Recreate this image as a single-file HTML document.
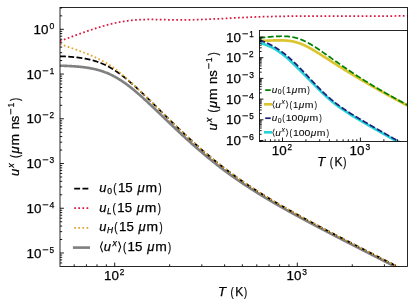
<!DOCTYPE html>
<html lang="en"><head><meta charset="utf-8"><title>plot</title><style>html,body{margin:0;padding:0;background:#fff}svg text{font-family:"Liberation Sans",sans-serif}</style></head><body>
<svg width="415" height="307" viewBox="0 0 415 307" style="display:block">
<rect x="0" y="0" width="415" height="307" fill="#fff"/>
<defs><clipPath id="cm"><rect x="60.0" y="7.5" width="347.5" height="259.0"/></clipPath><clipPath id="ci"><rect x="259.5" y="30.5" width="148.0" height="110.94999999999999"/></clipPath></defs>
<g clip-path="url(#cm)" fill="none">
<path d="M60.00,65.70 L60.58,65.72 L61.16,65.73 L61.75,65.75 L62.33,65.77 L62.91,65.79 L63.49,65.80 L64.07,65.82 L64.65,65.85 L65.24,65.87 L65.82,65.89 L66.40,65.91 L66.98,65.94 L67.56,65.96 L68.15,65.99 L68.73,66.02 L69.31,66.05 L69.89,66.08 L70.47,66.11 L71.05,66.14 L71.64,66.17 L72.22,66.21 L72.80,66.24 L73.38,66.28 L73.96,66.32 L74.55,66.36 L75.13,66.40 L75.71,66.44 L76.29,66.49 L76.87,66.54 L77.45,66.58 L78.04,66.63 L78.62,66.69 L79.20,66.74 L79.78,66.80 L80.36,66.85 L80.94,66.91 L81.53,66.98 L82.11,67.04 L82.69,67.11 L83.27,67.18 L83.85,67.25 L84.44,67.32 L85.02,67.40 L85.60,67.48 L86.18,67.56 L86.76,67.65 L87.34,67.74 L87.93,67.83 L88.51,67.92 L89.09,68.02 L89.67,68.12 L90.25,68.22 L90.84,68.33 L91.42,68.44 L92.00,68.56 L92.58,68.68 L93.16,68.80 L93.74,68.92 L94.33,69.05 L94.91,69.19 L95.49,69.33 L96.07,69.47 L96.65,69.61 L97.24,69.77 L97.82,69.92 L98.40,70.08 L98.98,70.25 L99.56,70.41 L100.14,70.59 L100.73,70.77 L101.31,70.95 L101.89,71.14 L102.47,71.33 L103.05,71.53 L103.64,71.74 L104.22,71.95 L104.80,72.16 L105.38,72.38 L105.96,72.61 L106.54,72.84 L107.13,73.08 L107.71,73.32 L108.29,73.57 L108.87,73.82 L109.45,74.08 L110.04,74.35 L110.62,74.62 L111.20,74.90 L111.78,75.18 L112.36,75.47 L112.94,75.77 L113.53,76.07 L114.11,76.37 L114.69,76.69 L115.27,77.00 L115.85,77.33 L116.43,77.66 L117.02,77.99 L117.60,78.34 L118.18,78.68 L118.76,79.04 L119.34,79.40 L119.93,79.76 L120.51,80.13 L121.09,80.51 L121.67,80.89 L122.25,81.27 L122.83,81.67 L123.42,82.06 L124.00,82.47 L124.58,82.87 L125.16,83.29 L125.74,83.70 L126.33,84.13 L126.91,84.55 L127.49,84.99 L128.07,85.42 L128.65,85.86 L129.23,86.31 L129.82,86.76 L130.40,87.22 L130.98,87.67 L131.56,88.14 L132.14,88.61 L132.73,89.08 L133.31,89.55 L133.89,90.03 L134.47,90.51 L135.05,91.00 L135.63,91.49 L136.22,91.98 L136.80,92.48 L137.38,92.97 L137.96,93.48 L138.54,93.98 L139.13,94.49 L139.71,95.00 L140.29,95.51 L140.87,96.03 L141.45,96.55 L142.03,97.07 L142.62,97.59 L143.20,98.12 L143.78,98.65 L144.36,99.18 L144.94,99.71 L145.53,100.24 L146.11,100.78 L146.69,101.31 L147.27,101.85 L147.85,102.39 L148.43,102.93 L149.02,103.48 L149.60,104.02 L150.18,104.57 L150.76,105.11 L151.34,105.66 L151.92,106.21 L152.51,106.76 L153.09,107.31 L153.67,107.86 L154.25,108.42 L154.83,108.97 L155.42,109.52 L156.00,110.08 L156.58,110.63 L157.16,111.19 L157.74,111.75 L158.32,112.30 L158.91,112.86 L159.49,113.42 L160.07,113.98 L160.65,114.53 L161.23,115.09 L161.82,115.65 L162.40,116.21 L162.98,116.77 L163.56,117.32 L164.14,117.88 L164.72,118.44 L165.31,119.00 L165.89,119.55 L166.47,120.11 L167.05,120.67 L167.63,121.23 L168.22,121.78 L168.80,122.34 L169.38,122.89 L169.96,123.45 L170.54,124.00 L171.12,124.56 L171.71,125.11 L172.29,125.66 L172.87,126.22 L173.45,126.77 L174.03,127.32 L174.62,127.87 L175.20,128.42 L175.78,128.97 L176.36,129.52 L176.94,130.06 L177.52,130.61 L178.11,131.16 L178.69,131.70 L179.27,132.24 L179.85,132.79 L180.43,133.33 L181.02,133.87 L181.60,134.41 L182.18,134.95 L182.76,135.49 L183.34,136.02 L183.92,136.56 L184.51,137.09 L185.09,137.63 L185.67,138.16 L186.25,138.69 L186.83,139.22 L187.41,139.75 L188.00,140.28 L188.58,140.80 L189.16,141.33 L189.74,141.85 L190.32,142.38 L190.91,142.90 L191.49,143.42 L192.07,143.94 L192.65,144.45 L193.23,144.97 L193.81,145.49 L194.40,146.00 L194.98,146.51 L195.56,147.02 L196.14,147.53 L196.72,148.04 L197.31,148.55 L197.89,149.05 L198.47,149.55 L199.05,150.06 L199.63,150.56 L200.21,151.06 L200.80,151.55 L201.38,152.05 L201.96,152.55 L202.54,153.04 L203.12,153.53 L203.71,154.02 L204.29,154.51 L204.87,155.00 L205.45,155.48 L206.03,155.97 L206.61,156.45 L207.20,156.93 L207.78,157.41 L208.36,157.89 L208.94,158.37 L209.52,158.84 L210.11,159.32 L210.69,159.79 L211.27,160.26 L211.85,160.73 L212.43,161.19 L213.01,161.66 L213.60,162.12 L214.18,162.59 L214.76,163.05 L215.34,163.51 L215.92,163.97 L216.51,164.42 L217.09,164.88 L217.67,165.33 L218.25,165.78 L218.83,166.23 L219.41,166.68 L220.00,167.13 L220.58,167.57 L221.16,168.02 L221.74,168.46 L222.32,168.90 L222.90,169.34 L223.49,169.78 L224.07,170.21 L224.65,170.65 L225.23,171.08 L225.81,171.51 L226.40,171.94 L226.98,172.37 L227.56,172.80 L228.14,173.22 L228.72,173.65 L229.30,174.07 L229.89,174.49 L230.47,174.91 L231.05,175.33 L231.63,175.75 L232.21,176.16 L232.80,176.58 L233.38,176.99 L233.96,177.40 L234.54,177.81 L235.12,178.22 L235.70,178.62 L236.29,179.03 L236.87,179.43 L237.45,179.84 L238.03,180.24 L238.61,180.64 L239.20,181.04 L239.78,181.44 L240.36,181.83 L240.94,182.23 L241.52,182.62 L242.10,183.01 L242.69,183.40 L243.27,183.79 L243.85,184.18 L244.43,184.57 L245.01,184.95 L245.60,185.34 L246.18,185.72 L246.76,186.10 L247.34,186.49 L247.92,186.87 L248.50,187.24 L249.09,187.62 L249.67,188.00 L250.25,188.37 L250.83,188.75 L251.41,189.12 L251.99,189.49 L252.58,189.86 L253.16,190.23 L253.74,190.60 L254.32,190.97 L254.90,191.34 L255.49,191.70 L256.07,192.07 L256.65,192.43 L257.23,192.79 L257.81,193.15 L258.39,193.51 L258.98,193.87 L259.56,194.23 L260.14,194.59 L260.72,194.95 L261.30,195.30 L261.89,195.66 L262.47,196.01 L263.05,196.36 L263.63,196.72 L264.21,197.07 L264.79,197.42 L265.38,197.77 L265.96,198.12 L266.54,198.46 L267.12,198.81 L267.70,199.16 L268.29,199.50 L268.87,199.85 L269.45,200.19 L270.03,200.53 L270.61,200.88 L271.19,201.22 L271.78,201.56 L272.36,201.90 L272.94,202.24 L273.52,202.58 L274.10,202.92 L274.69,203.25 L275.27,203.59 L275.85,203.93 L276.43,204.26 L277.01,204.60 L277.59,204.93 L278.18,205.26 L278.76,205.60 L279.34,205.93 L279.92,206.26 L280.50,206.59 L281.09,206.92 L281.67,207.25 L282.25,207.58 L282.83,207.91 L283.41,208.23 L283.99,208.56 L284.58,208.89 L285.16,209.22 L285.74,209.54 L286.32,209.87 L286.90,210.19 L287.48,210.52 L288.07,210.84 L288.65,211.16 L289.23,211.49 L289.81,211.81 L290.39,212.13 L290.98,212.45 L291.56,212.77 L292.14,213.09 L292.72,213.41 L293.30,213.73 L293.88,214.05 L294.47,214.37 L295.05,214.69 L295.63,215.01 L296.21,215.32 L296.79,215.64 L297.38,215.96 L297.96,216.27 L298.54,216.59 L299.12,216.91 L299.70,217.22 L300.28,217.54 L300.87,217.85 L301.45,218.16 L302.03,218.48 L302.61,218.79 L303.19,219.10 L303.78,219.42 L304.36,219.73 L304.94,220.04 L305.52,220.35 L306.10,220.67 L306.68,220.98 L307.27,221.29 L307.85,221.60 L308.43,221.91 L309.01,222.22 L309.59,222.53 L310.18,222.84 L310.76,223.15 L311.34,223.46 L311.92,223.77 L312.50,224.07 L313.08,224.38 L313.67,224.69 L314.25,225.00 L314.83,225.31 L315.41,225.61 L315.99,225.92 L316.58,226.23 L317.16,226.53 L317.74,226.84 L318.32,227.15 L318.90,227.45 L319.48,227.76 L320.07,228.06 L320.65,228.37 L321.23,228.68 L321.81,228.98 L322.39,229.29 L322.97,229.59 L323.56,229.89 L324.14,230.20 L324.72,230.50 L325.30,230.81 L325.88,231.11 L326.47,231.41 L327.05,231.72 L327.63,232.02 L328.21,232.32 L328.79,232.63 L329.37,232.93 L329.96,233.23 L330.54,233.53 L331.12,233.84 L331.70,234.14 L332.28,234.44 L332.87,234.74 L333.45,235.04 L334.03,235.35 L334.61,235.65 L335.19,235.95 L335.77,236.25 L336.36,236.55 L336.94,236.85 L337.52,237.15 L338.10,237.45 L338.68,237.75 L339.27,238.05 L339.85,238.36 L340.43,238.66 L341.01,238.96 L341.59,239.26 L342.17,239.56 L342.76,239.86 L343.34,240.16 L343.92,240.45 L344.50,240.75 L345.08,241.05 L345.67,241.35 L346.25,241.65 L346.83,241.95 L347.41,242.25 L347.99,242.55 L348.57,242.85 L349.16,243.15 L349.74,243.45 L350.32,243.74 L350.90,244.04 L351.48,244.34 L352.07,244.64 L352.65,244.94 L353.23,245.24 L353.81,245.53 L354.39,245.83 L354.97,246.13 L355.56,246.43 L356.14,246.73 L356.72,247.02 L357.30,247.32 L357.88,247.62 L358.46,247.92 L359.05,248.22 L359.63,248.51 L360.21,248.81 L360.79,249.11 L361.37,249.40 L361.96,249.70 L362.54,250.00 L363.12,250.30 L363.70,250.59 L364.28,250.89 L364.86,251.19 L365.45,251.48 L366.03,251.78 L366.61,252.08 L367.19,252.37 L367.77,252.67 L368.36,252.97 L368.94,253.26 L369.52,253.56 L370.10,253.86 L370.68,254.15 L371.26,254.45 L371.85,254.75 L372.43,255.04 L373.01,255.34 L373.59,255.64 L374.17,255.93 L374.76,256.23 L375.34,256.52 L375.92,256.82 L376.50,257.12 L377.08,257.41 L377.66,257.71 L378.25,258.01 L378.83,258.30 L379.41,258.60 L379.99,258.89 L380.57,259.19 L381.16,259.48 L381.74,259.78 L382.32,260.08 L382.90,260.37 L383.48,260.67 L384.06,260.96 L384.65,261.26 L385.23,261.55 L385.81,261.85 L386.39,262.15 L386.97,262.44 L387.56,262.74 L388.14,263.03 L388.72,263.33 L389.30,263.62 L389.88,263.92 L390.46,264.21 L391.05,264.51 L391.63,264.80 L392.21,265.10 L392.79,265.39 L393.37,265.69 L393.95,265.99 L394.54,266.28 L395.12,266.58 L395.70,266.87 L396.28,267.17 L396.86,267.46 L397.45,267.76 L398.03,268.05 L398.61,268.35 L399.19,268.64 L399.77,268.94 L400.35,269.23 L400.94,269.53 L401.52,269.82 L402.10,270.12 L402.68,270.41 L403.26,270.71 L403.85,271.00 L404.43,271.30 L405.01,271.59 L405.59,271.89 L406.17,272.18 L406.75,272.48 L407.34,272.77 L407.92,273.07 L408.50,273.36" stroke="#808080" stroke-width="2.65"/>
<path d="M60.00,56.26 L60.58,56.28 L61.16,56.31 L61.75,56.33 L62.33,56.36 L62.91,56.38 L63.49,56.41 L64.07,56.44 L64.65,56.46 L65.24,56.49 L65.82,56.53 L66.40,56.56 L66.98,56.59 L67.56,56.63 L68.15,56.66 L68.73,56.70 L69.31,56.74 L69.89,56.78 L70.47,56.83 L71.05,56.87 L71.64,56.92 L72.22,56.96 L72.80,57.01 L73.38,57.06 L73.96,57.12 L74.55,57.17 L75.13,57.23 L75.71,57.29 L76.29,57.35 L76.87,57.42 L77.45,57.48 L78.04,57.55 L78.62,57.62 L79.20,57.70 L79.78,57.77 L80.36,57.85 L80.94,57.93 L81.53,58.02 L82.11,58.11 L82.69,58.20 L83.27,58.29 L83.85,58.39 L84.44,58.49 L85.02,58.59 L85.60,58.70 L86.18,58.81 L86.76,58.93 L87.34,59.04 L87.93,59.17 L88.51,59.29 L89.09,59.42 L89.67,59.56 L90.25,59.70 L90.84,59.84 L91.42,59.99 L92.00,60.14 L92.58,60.30 L93.16,60.46 L93.74,60.62 L94.33,60.79 L94.91,60.97 L95.49,61.15 L96.07,61.34 L96.65,61.53 L97.24,61.73 L97.82,61.93 L98.40,62.13 L98.98,62.35 L99.56,62.57 L100.14,62.79 L100.73,63.02 L101.31,63.25 L101.89,63.49 L102.47,63.74 L103.05,63.99 L103.64,64.25 L104.22,64.52 L104.80,64.79 L105.38,65.06 L105.96,65.35 L106.54,65.64 L107.13,65.93 L107.71,66.23 L108.29,66.54 L108.87,66.85 L109.45,67.17 L110.04,67.49 L110.62,67.83 L111.20,68.16 L111.78,68.51 L112.36,68.86 L112.94,69.21 L113.53,69.57 L114.11,69.94 L114.69,70.31 L115.27,70.69 L115.85,71.07 L116.43,71.46 L117.02,71.86 L117.60,72.26 L118.18,72.66 L118.76,73.08 L119.34,73.49 L119.93,73.91 L120.51,74.34 L121.09,74.77 L121.67,75.21 L122.25,75.65 L122.83,76.10 L123.42,76.55 L124.00,77.01 L124.58,77.47 L125.16,77.93 L125.74,78.40 L126.33,78.87 L126.91,79.35 L127.49,79.83 L128.07,80.32 L128.65,80.81 L129.23,81.30 L129.82,81.80 L130.40,82.30 L130.98,82.80 L131.56,83.31 L132.14,83.82 L132.73,84.33 L133.31,84.85 L133.89,85.37 L134.47,85.89 L135.05,86.41 L135.63,86.94 L136.22,87.47 L136.80,88.00 L137.38,88.54 L137.96,89.07 L138.54,89.61 L139.13,90.15 L139.71,90.70 L140.29,91.24 L140.87,91.79 L141.45,92.34 L142.03,92.89 L142.62,93.44 L143.20,93.99 L143.78,94.55 L144.36,95.10 L144.94,95.66 L145.53,96.22 L146.11,96.78 L146.69,97.34 L147.27,97.90 L147.85,98.47 L148.43,99.03 L149.02,99.60 L149.60,100.16 L150.18,100.73 L150.76,101.30 L151.34,101.87 L151.92,102.43 L152.51,103.00 L153.09,103.57 L153.67,104.14 L154.25,104.71 L154.83,105.28 L155.42,105.86 L156.00,106.43 L156.58,107.00 L157.16,107.57 L157.74,108.14 L158.32,108.71 L158.91,109.29 L159.49,109.86 L160.07,110.43 L160.65,111.00 L161.23,111.58 L161.82,112.15 L162.40,112.72 L162.98,113.29 L163.56,113.86 L164.14,114.43 L164.72,115.00 L165.31,115.57 L165.89,116.14 L166.47,116.71 L167.05,117.28 L167.63,117.85 L168.22,118.42 L168.80,118.98 L169.38,119.55 L169.96,120.12 L170.54,120.68 L171.12,121.25 L171.71,121.81 L172.29,122.38 L172.87,122.94 L173.45,123.50 L174.03,124.06 L174.62,124.63 L175.20,125.19 L175.78,125.75 L176.36,126.30 L176.94,126.86 L177.52,127.42 L178.11,127.97 L178.69,128.53 L179.27,129.08 L179.85,129.64 L180.43,130.19 L181.02,130.74 L181.60,131.29 L182.18,131.84 L182.76,132.39 L183.34,132.93 L183.92,133.48 L184.51,134.03 L185.09,134.57 L185.67,135.11 L186.25,135.65 L186.83,136.19 L187.41,136.73 L188.00,137.27 L188.58,137.81 L189.16,138.34 L189.74,138.88 L190.32,139.41 L190.91,139.94 L191.49,140.47 L192.07,141.00 L192.65,141.53 L193.23,142.06 L193.81,142.58 L194.40,143.11 L194.98,143.63 L195.56,144.15 L196.14,144.67 L196.72,145.19 L197.31,145.71 L197.89,146.22 L198.47,146.74 L199.05,147.25 L199.63,147.76 L200.21,148.27 L200.80,148.78 L201.38,149.29 L201.96,149.80 L202.54,150.30 L203.12,150.80 L203.71,151.30 L204.29,151.80 L204.87,152.30 L205.45,152.80 L206.03,153.30 L206.61,153.79 L207.20,154.28 L207.78,154.77 L208.36,155.26 L208.94,155.75 L209.52,156.24 L210.11,156.72 L210.69,157.21 L211.27,157.69 L211.85,158.17 L212.43,158.65 L213.01,159.12 L213.60,159.60 L214.18,160.07 L214.76,160.55 L215.34,161.02 L215.92,161.49 L216.51,161.96 L217.09,162.42 L217.67,162.89 L218.25,163.35 L218.83,163.81 L219.41,164.27 L220.00,164.73 L220.58,165.19 L221.16,165.64 L221.74,166.10 L222.32,166.55 L222.90,167.00 L223.49,167.45 L224.07,167.90 L224.65,168.34 L225.23,168.79 L225.81,169.23 L226.40,169.67 L226.98,170.11 L227.56,170.55 L228.14,170.99 L228.72,171.42 L229.30,171.86 L229.89,172.29 L230.47,172.72 L231.05,173.15 L231.63,173.58 L232.21,174.00 L232.80,174.43 L233.38,174.85 L233.96,175.27 L234.54,175.69 L235.12,176.11 L235.70,176.53 L236.29,176.95 L236.87,177.36 L237.45,177.78 L238.03,178.19 L238.61,178.60 L239.20,179.01 L239.78,179.42 L240.36,179.82 L240.94,180.23 L241.52,180.63 L242.10,181.03 L242.69,181.43 L243.27,181.83 L243.85,182.23 L244.43,182.63 L245.01,183.02 L245.60,183.42 L246.18,183.81 L246.76,184.20 L247.34,184.59 L247.92,184.98 L248.50,185.37 L249.09,185.76 L249.67,186.14 L250.25,186.53 L250.83,186.91 L251.41,187.29 L251.99,187.67 L252.58,188.05 L253.16,188.43 L253.74,188.81 L254.32,189.19 L254.90,189.56 L255.49,189.93 L256.07,190.31 L256.65,190.68 L257.23,191.05 L257.81,191.42 L258.39,191.79 L258.98,192.16 L259.56,192.52 L260.14,192.89 L260.72,193.25 L261.30,193.62 L261.89,193.98 L262.47,194.34 L263.05,194.70 L263.63,195.06 L264.21,195.42 L264.79,195.77 L265.38,196.13 L265.96,196.49 L266.54,196.84 L267.12,197.20 L267.70,197.55 L268.29,197.90 L268.87,198.25 L269.45,198.60 L270.03,198.95 L270.61,199.30 L271.19,199.65 L271.78,199.99 L272.36,200.34 L272.94,200.69 L273.52,201.03 L274.10,201.38 L274.69,201.72 L275.27,202.06 L275.85,202.40 L276.43,202.74 L277.01,203.08 L277.59,203.42 L278.18,203.76 L278.76,204.10 L279.34,204.44 L279.92,204.77 L280.50,205.11 L281.09,205.44 L281.67,205.78 L282.25,206.11 L282.83,206.45 L283.41,206.78 L283.99,207.11 L284.58,207.44 L285.16,207.77 L285.74,208.10 L286.32,208.43 L286.90,208.76 L287.48,209.09 L288.07,209.42 L288.65,209.75 L289.23,210.07 L289.81,210.40 L290.39,210.72 L290.98,211.05 L291.56,211.37 L292.14,211.70 L292.72,212.02 L293.30,212.35 L293.88,212.67 L294.47,212.99 L295.05,213.31 L295.63,213.63 L296.21,213.96 L296.79,214.28 L297.38,214.60 L297.96,214.92 L298.54,215.23 L299.12,215.55 L299.70,215.87 L300.28,216.19 L300.87,216.51 L301.45,216.82 L302.03,217.14 L302.61,217.46 L303.19,217.77 L303.78,218.09 L304.36,218.40 L304.94,218.72 L305.52,219.03 L306.10,219.35 L306.68,219.66 L307.27,219.98 L307.85,220.29 L308.43,220.60 L309.01,220.91 L309.59,221.23 L310.18,221.54 L310.76,221.85 L311.34,222.16 L311.92,222.47 L312.50,222.78 L313.08,223.09 L313.67,223.40 L314.25,223.71 L314.83,224.02 L315.41,224.33 L315.99,224.64 L316.58,224.95 L317.16,225.26 L317.74,225.57 L318.32,225.87 L318.90,226.18 L319.48,226.49 L320.07,226.80 L320.65,227.10 L321.23,227.41 L321.81,227.72 L322.39,228.02 L322.97,228.33 L323.56,228.64 L324.14,228.94 L324.72,229.25 L325.30,229.55 L325.88,229.86 L326.47,230.16 L327.05,230.47 L327.63,230.77 L328.21,231.08 L328.79,231.38 L329.37,231.68 L329.96,231.99 L330.54,232.29 L331.12,232.59 L331.70,232.90 L332.28,233.20 L332.87,233.50 L333.45,233.81 L334.03,234.11 L334.61,234.41 L335.19,234.71 L335.77,235.02 L336.36,235.32 L336.94,235.62 L337.52,235.92 L338.10,236.22 L338.68,236.53 L339.27,236.83 L339.85,237.13 L340.43,237.43 L341.01,237.73 L341.59,238.03 L342.17,238.33 L342.76,238.63 L343.34,238.93 L343.92,239.23 L344.50,239.53 L345.08,239.83 L345.67,240.13 L346.25,240.43 L346.83,240.73 L347.41,241.03 L347.99,241.33 L348.57,241.63 L349.16,241.93 L349.74,242.23 L350.32,242.53 L350.90,242.83 L351.48,243.13 L352.07,243.43 L352.65,243.73 L353.23,244.02 L353.81,244.32 L354.39,244.62 L354.97,244.92 L355.56,245.22 L356.14,245.52 L356.72,245.82 L357.30,246.11 L357.88,246.41 L358.46,246.71 L359.05,247.01 L359.63,247.31 L360.21,247.60 L360.79,247.90 L361.37,248.20 L361.96,248.50 L362.54,248.79 L363.12,249.09 L363.70,249.39 L364.28,249.69 L364.86,249.98 L365.45,250.28 L366.03,250.58 L366.61,250.87 L367.19,251.17 L367.77,251.47 L368.36,251.76 L368.94,252.06 L369.52,252.36 L370.10,252.66 L370.68,252.95 L371.26,253.25 L371.85,253.55 L372.43,253.84 L373.01,254.14 L373.59,254.43 L374.17,254.73 L374.76,255.03 L375.34,255.32 L375.92,255.62 L376.50,255.92 L377.08,256.21 L377.66,256.51 L378.25,256.80 L378.83,257.10 L379.41,257.40 L379.99,257.69 L380.57,257.99 L381.16,258.28 L381.74,258.58 L382.32,258.88 L382.90,259.17 L383.48,259.47 L384.06,259.76 L384.65,260.06 L385.23,260.35 L385.81,260.65 L386.39,260.95 L386.97,261.24 L387.56,261.54 L388.14,261.83 L388.72,262.13 L389.30,262.42 L389.88,262.72 L390.46,263.01 L391.05,263.31 L391.63,263.60 L392.21,263.90 L392.79,264.19 L393.37,264.49 L393.95,264.78 L394.54,265.08 L395.12,265.38 L395.70,265.67 L396.28,265.97 L396.86,266.26 L397.45,266.56 L398.03,266.85 L398.61,267.15 L399.19,267.44 L399.77,267.74 L400.35,268.03 L400.94,268.33 L401.52,268.62 L402.10,268.91 L402.68,269.21 L403.26,269.50 L403.85,269.80 L404.43,270.09 L405.01,270.39 L405.59,270.68 L406.17,270.98 L406.75,271.27 L407.34,271.57 L407.92,271.86 L408.50,272.16" stroke="#000" stroke-width="1.75" stroke-dasharray="5.9,2.35"/>
<path d="M60.00,41.09 L60.70,40.83 L61.40,40.57 L62.10,40.31 L62.79,40.05 L63.49,39.79 L64.19,39.53 L64.89,39.26 L65.59,39.00 L66.29,38.74 L66.98,38.48 L67.68,38.22 L68.38,37.96 L69.08,37.70 L69.78,37.44 L70.48,37.18 L71.17,36.92 L71.87,36.66 L72.57,36.40 L73.27,36.14 L73.97,35.89 L74.67,35.63 L75.36,35.37 L76.06,35.11 L76.76,34.86 L77.46,34.60 L78.16,34.35 L78.86,34.10 L79.56,33.84 L80.25,33.59 L80.95,33.34 L81.65,33.09 L82.35,32.84 L83.05,32.59 L83.75,32.35 L84.44,32.10 L85.14,31.85 L85.84,31.61 L86.54,31.37 L87.24,31.13 L87.94,30.89 L88.63,30.65 L89.33,30.41 L90.03,30.18 L90.73,29.94 L91.43,29.71 L92.13,29.48 L92.82,29.25 L93.52,29.02 L94.22,28.80 L94.92,28.57 L95.62,28.35 L96.32,28.13 L97.02,27.91 L97.71,27.69 L98.41,27.48 L99.11,27.26 L99.81,27.05 L100.51,26.84 L101.21,26.64 L101.90,26.43 L102.60,26.23 L103.30,26.03 L104.00,25.83 L104.70,25.64 L105.40,25.44 L106.09,25.25 L106.79,25.06 L107.49,24.88 L108.19,24.69 L108.89,24.51 L109.59,24.34 L110.28,24.16 L110.98,23.99 L111.68,23.82 L112.38,23.65 L113.08,23.49 L113.78,23.33 L114.47,23.17 L115.17,23.01 L115.87,22.86 L116.57,22.71 L117.27,22.57 L117.97,22.42 L118.67,22.28 L119.36,22.15 L120.06,22.01 L120.76,21.89 L121.46,21.76 L122.16,21.64 L122.86,21.52 L123.55,21.40 L124.25,21.29 L124.95,21.18 L125.65,21.08 L126.35,20.97 L127.05,20.88 L127.74,20.78 L128.44,20.69 L129.14,20.61 L129.84,20.53 L130.54,20.45 L131.24,20.37 L131.93,20.30 L132.63,20.23 L133.33,20.17 L134.03,20.11 L134.73,20.05 L135.43,19.99 L136.13,19.94 L136.82,19.89 L137.52,19.85 L138.22,19.81 L138.92,19.77 L139.62,19.73 L140.32,19.69 L141.01,19.66 L141.71,19.63 L142.41,19.61 L143.11,19.58 L143.81,19.56 L144.51,19.54 L145.20,19.53 L145.90,19.51 L146.60,19.50 L147.30,19.49 L148.00,19.48 L148.70,19.48 L149.39,19.47 L150.09,19.47 L150.79,19.47 L151.49,19.47 L152.19,19.48 L152.89,19.48 L153.59,19.49 L154.28,19.49 L154.98,19.50 L155.68,19.51 L156.38,19.52 L157.08,19.53 L157.78,19.55 L158.47,19.56 L159.17,19.57 L159.87,19.59 L160.57,19.60 L161.27,19.62 L161.97,19.63 L162.66,19.65 L163.36,19.66 L164.06,19.68 L164.76,19.70 L165.46,19.71 L166.16,19.73 L166.85,19.74 L167.55,19.76 L168.25,19.77 L168.95,19.78 L169.65,19.80 L170.35,19.81 L171.05,19.82 L171.74,19.83 L172.44,19.84 L173.14,19.85 L173.84,19.86 L174.54,19.87 L175.24,19.87 L175.93,19.88 L176.63,19.88 L177.33,19.89 L178.03,19.89 L178.73,19.89 L179.43,19.90 L180.12,19.90 L180.82,19.90 L181.52,19.90 L182.22,19.90 L182.92,19.89 L183.62,19.89 L184.31,19.89 L185.01,19.88 L185.71,19.88 L186.41,19.87 L187.11,19.86 L187.81,19.85 L188.51,19.84 L189.20,19.83 L189.90,19.82 L190.60,19.81 L191.30,19.80 L192.00,19.78 L192.70,19.77 L193.39,19.75 L194.09,19.74 L194.79,19.72 L195.49,19.70 L196.19,19.68 L196.89,19.66 L197.58,19.64 L198.28,19.62 L198.98,19.60 L199.68,19.58 L200.38,19.55 L201.08,19.53 L201.77,19.50 L202.47,19.48 L203.17,19.45 L203.87,19.43 L204.57,19.40 L205.27,19.37 L205.96,19.34 L206.66,19.32 L207.36,19.29 L208.06,19.26 L208.76,19.23 L209.46,19.20 L210.16,19.16 L210.85,19.13 L211.55,19.10 L212.25,19.07 L212.95,19.04 L213.65,19.00 L214.35,18.97 L215.04,18.94 L215.74,18.90 L216.44,18.87 L217.14,18.83 L217.84,18.80 L218.54,18.76 L219.23,18.73 L219.93,18.69 L220.63,18.66 L221.33,18.62 L222.03,18.58 L222.73,18.55 L223.42,18.51 L224.12,18.48 L224.82,18.44 L225.52,18.40 L226.22,18.37 L226.92,18.33 L227.62,18.29 L228.31,18.26 L229.01,18.22 L229.71,18.18 L230.41,18.15 L231.11,18.11 L231.81,18.07 L232.50,18.04 L233.20,18.00 L233.90,17.96 L234.60,17.93 L235.30,17.89 L236.00,17.86 L236.69,17.82 L237.39,17.78 L238.09,17.75 L238.79,17.71 L239.49,17.68 L240.19,17.64 L240.88,17.61 L241.58,17.58 L242.28,17.54 L242.98,17.51 L243.68,17.48 L244.38,17.45 L245.08,17.41 L245.77,17.38 L246.47,17.35 L247.17,17.32 L247.87,17.29 L248.57,17.26 L249.27,17.23 L249.96,17.20 L250.66,17.17 L251.36,17.14 L252.06,17.12 L252.76,17.09 L253.46,17.06 L254.15,17.04 L254.85,17.01 L255.55,16.99 L256.25,16.96 L256.95,16.94 L257.65,16.91 L258.34,16.89 L259.04,16.87 L259.74,16.84 L260.44,16.82 L261.14,16.80 L261.84,16.78 L262.54,16.76 L263.23,16.74 L263.93,16.72 L264.63,16.70 L265.33,16.68 L266.03,16.66 L266.73,16.64 L267.42,16.62 L268.12,16.60 L268.82,16.58 L269.52,16.57 L270.22,16.55 L270.92,16.53 L271.61,16.52 L272.31,16.50 L273.01,16.49 L273.71,16.47 L274.41,16.46 L275.11,16.44 L275.80,16.43 L276.50,16.41 L277.20,16.40 L277.90,16.39 L278.60,16.37 L279.30,16.36 L279.99,16.35 L280.69,16.34 L281.39,16.33 L282.09,16.31 L282.79,16.30 L283.49,16.29 L284.19,16.28 L284.88,16.27 L285.58,16.26 L286.28,16.25 L286.98,16.24 L287.68,16.24 L288.38,16.23 L289.07,16.22 L289.77,16.21 L290.47,16.20 L291.17,16.19 L291.87,16.19 L292.57,16.18 L293.26,16.17 L293.96,16.17 L294.66,16.16 L295.36,16.15 L296.06,16.15 L296.76,16.14 L297.45,16.14 L298.15,16.13 L298.85,16.13 L299.55,16.12 L300.25,16.12 L300.95,16.11 L301.65,16.11 L302.34,16.11 L303.04,16.10 L303.74,16.10 L304.44,16.10 L305.14,16.09 L305.84,16.09 L306.53,16.09 L307.23,16.08 L307.93,16.08 L308.63,16.08 L309.33,16.08 L310.03,16.07 L310.72,16.07 L311.42,16.07 L312.12,16.07 L312.82,16.07 L313.52,16.07 L314.22,16.07 L314.91,16.07 L315.61,16.07 L316.31,16.06 L317.01,16.06 L317.71,16.06 L318.41,16.06 L319.11,16.06 L319.80,16.06 L320.50,16.06 L321.20,16.06 L321.90,16.06 L322.60,16.06 L323.30,16.07 L323.99,16.07 L324.69,16.07 L325.39,16.07 L326.09,16.07 L326.79,16.07 L327.49,16.07 L328.18,16.07 L328.88,16.07 L329.58,16.07 L330.28,16.08 L330.98,16.08 L331.68,16.08 L332.37,16.08 L333.07,16.08 L333.77,16.08 L334.47,16.08 L335.17,16.09 L335.87,16.09 L336.57,16.09 L337.26,16.09 L337.96,16.09 L338.66,16.10 L339.36,16.10 L340.06,16.10 L340.76,16.10 L341.45,16.10 L342.15,16.11 L342.85,16.11 L343.55,16.11 L344.25,16.11 L344.95,16.11 L345.64,16.11 L346.34,16.12 L347.04,16.12 L347.74,16.12 L348.44,16.12 L349.14,16.12 L349.83,16.13 L350.53,16.13 L351.23,16.13 L351.93,16.13 L352.63,16.13 L353.33,16.13 L354.03,16.14 L354.72,16.14 L355.42,16.14 L356.12,16.14 L356.82,16.14 L357.52,16.14 L358.22,16.14 L358.91,16.14 L359.61,16.14 L360.31,16.15 L361.01,16.15 L361.71,16.15 L362.41,16.15 L363.10,16.15 L363.80,16.15 L364.50,16.15 L365.20,16.15 L365.90,16.15 L366.60,16.15 L367.29,16.15 L367.99,16.15 L368.69,16.15 L369.39,16.15 L370.09,16.15 L370.79,16.14 L371.48,16.14 L372.18,16.14 L372.88,16.14 L373.58,16.14 L374.28,16.14 L374.98,16.14 L375.68,16.13 L376.37,16.13 L377.07,16.13 L377.77,16.13 L378.47,16.12 L379.17,16.12 L379.87,16.12 L380.56,16.12 L381.26,16.11 L381.96,16.11 L382.66,16.10 L383.36,16.10 L384.06,16.10 L384.75,16.09 L385.45,16.09 L386.15,16.08 L386.85,16.08 L387.55,16.07 L388.25,16.07 L388.94,16.06 L389.64,16.06 L390.34,16.05 L391.04,16.04 L391.74,16.04 L392.44,16.03 L393.14,16.02 L393.83,16.01 L394.53,16.01 L395.23,16.00 L395.93,15.99 L396.63,15.98 L397.33,15.97 L398.02,15.96 L398.72,15.96 L399.42,15.95 L400.12,15.94 L400.82,15.93 L401.52,15.91 L402.21,15.90 L402.91,15.89 L403.61,15.88 L404.31,15.87 L405.01,15.86 L405.71,15.85 L406.40,15.83 L407.10,15.82 L407.80,15.81 L408.50,15.79" stroke="#dc143c" stroke-width="1.75" stroke-dasharray="1.7,2.42"/>
<path d="M60.00,43.96 L60.58,44.18 L61.16,44.40 L61.75,44.61 L62.33,44.83 L62.91,45.04 L63.49,45.26 L64.07,45.47 L64.65,45.69 L65.24,45.90 L65.82,46.11 L66.40,46.32 L66.98,46.53 L67.56,46.73 L68.15,46.94 L68.73,47.14 L69.31,47.33 L69.89,47.53 L70.47,47.72 L71.05,47.91 L71.64,48.10 L72.22,48.29 L72.80,48.48 L73.38,48.67 L73.96,48.86 L74.55,49.06 L75.13,49.26 L75.71,49.46 L76.29,49.68 L76.87,49.90 L77.45,50.12 L78.04,50.35 L78.62,50.59 L79.20,50.82 L79.78,51.05 L80.36,51.27 L80.94,51.48 L81.53,51.69 L82.11,51.91 L82.69,52.12 L83.27,52.33 L83.85,52.54 L84.44,52.75 L85.02,52.97 L85.60,53.19 L86.18,53.41 L86.76,53.63 L87.34,53.86 L87.93,54.09 L88.51,54.33 L89.09,54.57 L89.67,54.82 L90.25,55.07 L90.84,55.32 L91.42,55.58 L92.00,55.83 L92.58,56.10 L93.16,56.36 L93.74,56.63 L94.33,56.90 L94.91,57.16 L95.49,57.44 L96.07,57.71 L96.65,57.98 L97.24,58.26 L97.82,58.55 L98.40,58.83 L98.98,59.13 L99.56,59.42 L100.14,59.72 L100.73,60.02 L101.31,60.32 L101.89,60.63 L102.47,60.94 L103.05,61.25 L103.64,61.57 L104.22,61.88 L104.80,62.20 L105.38,62.52 L105.96,62.85 L106.54,63.18 L107.13,63.52 L107.71,63.86 L108.29,64.21 L108.87,64.56 L109.45,64.93 L110.04,65.30 L110.62,65.68 L111.20,66.07 L111.78,66.46 L112.36,66.87 L112.94,67.28 L113.53,67.69 L114.11,68.12 L114.69,68.54 L115.27,68.98 L115.85,69.41 L116.43,69.86 L117.02,70.30 L117.60,70.75 L118.18,71.21 L118.76,71.67 L119.34,72.13 L119.93,72.61 L120.51,73.09 L121.09,73.58 L121.67,74.08 L122.25,74.58 L122.83,75.09 L123.42,75.60 L124.00,76.11 L124.58,76.63 L125.16,77.15 L125.74,77.67 L126.33,78.19 L126.91,78.72 L127.49,79.26 L128.07,79.79 L128.65,80.32 L129.23,80.86 L129.82,81.39 L130.40,81.92 L130.98,82.45 L131.56,82.99 L132.14,83.52 L132.73,84.06 L133.31,84.60 L133.89,85.14 L134.47,85.69 L135.05,86.23 L135.63,86.78 L136.22,87.33 L136.80,87.87 L137.38,88.42 L137.96,88.97 L138.54,89.52 L139.13,90.08 L139.71,90.63 L140.29,91.19 L140.87,91.74 L141.45,92.30 L142.03,92.86 L142.62,93.42 L143.20,93.98 L143.78,94.54 L144.36,95.10 L144.94,95.66 L145.53,96.22 L146.11,96.78 L146.69,97.34 L147.27,97.90 L147.85,98.47 L148.43,99.03 L149.02,99.60 L149.60,100.16 L150.18,100.73 L150.76,101.30 L151.34,101.87 L151.92,102.43 L152.51,103.00 L153.09,103.57 L153.67,104.14 L154.25,104.71 L154.83,105.28 L155.42,105.86 L156.00,106.43 L156.58,107.00 L157.16,107.57 L157.74,108.14 L158.32,108.71 L158.91,109.29 L159.49,109.86 L160.07,110.43 L160.65,111.00 L161.23,111.58 L161.82,112.15 L162.40,112.72 L162.98,113.29 L163.56,113.86 L164.14,114.43 L164.72,115.00 L165.31,115.57 L165.89,116.14 L166.47,116.71 L167.05,117.28 L167.63,117.85 L168.22,118.42 L168.80,118.98 L169.38,119.55 L169.96,120.12 L170.54,120.68 L171.12,121.25 L171.71,121.81 L172.29,122.38 L172.87,122.94 L173.45,123.50 L174.03,124.06 L174.62,124.63 L175.20,125.19 L175.78,125.75 L176.36,126.30 L176.94,126.86 L177.52,127.42 L178.11,127.97 L178.69,128.53 L179.27,129.08 L179.85,129.64 L180.43,130.19 L181.02,130.74 L181.60,131.29 L182.18,131.84 L182.76,132.39 L183.34,132.93 L183.92,133.48 L184.51,134.03 L185.09,134.57 L185.67,135.11 L186.25,135.65 L186.83,136.19 L187.41,136.73 L188.00,137.27 L188.58,137.81 L189.16,138.34 L189.74,138.88 L190.32,139.41 L190.91,139.94 L191.49,140.47 L192.07,141.00 L192.65,141.53 L193.23,142.06 L193.81,142.58 L194.40,143.11 L194.98,143.63 L195.56,144.15 L196.14,144.67 L196.72,145.19 L197.31,145.71 L197.89,146.22 L198.47,146.74 L199.05,147.25 L199.63,147.76 L200.21,148.27 L200.80,148.78 L201.38,149.29 L201.96,149.80 L202.54,150.30 L203.12,150.80 L203.71,151.30 L204.29,151.80 L204.87,152.30 L205.45,152.80 L206.03,153.30 L206.61,153.79 L207.20,154.28 L207.78,154.77 L208.36,155.26 L208.94,155.75 L209.52,156.24 L210.11,156.72 L210.69,157.21 L211.27,157.69 L211.85,158.17 L212.43,158.65 L213.01,159.12 L213.60,159.60 L214.18,160.07 L214.76,160.55 L215.34,161.02 L215.92,161.49 L216.51,161.96 L217.09,162.42 L217.67,162.89 L218.25,163.35 L218.83,163.81 L219.41,164.27 L220.00,164.73 L220.58,165.19 L221.16,165.64 L221.74,166.10 L222.32,166.55 L222.90,167.00 L223.49,167.45 L224.07,167.90 L224.65,168.34 L225.23,168.79 L225.81,169.23 L226.40,169.67 L226.98,170.11 L227.56,170.55 L228.14,170.99 L228.72,171.42 L229.30,171.86 L229.89,172.29 L230.47,172.72 L231.05,173.15 L231.63,173.58 L232.21,174.00 L232.80,174.43 L233.38,174.85 L233.96,175.27 L234.54,175.69 L235.12,176.11 L235.70,176.53 L236.29,176.95 L236.87,177.36 L237.45,177.78 L238.03,178.19 L238.61,178.60 L239.20,179.01 L239.78,179.42 L240.36,179.82 L240.94,180.23 L241.52,180.63 L242.10,181.03 L242.69,181.43 L243.27,181.83 L243.85,182.23 L244.43,182.63 L245.01,183.02 L245.60,183.42 L246.18,183.81 L246.76,184.20 L247.34,184.59 L247.92,184.98 L248.50,185.37 L249.09,185.76 L249.67,186.14 L250.25,186.53 L250.83,186.91 L251.41,187.29 L251.99,187.67 L252.58,188.05 L253.16,188.43 L253.74,188.81 L254.32,189.19 L254.90,189.56 L255.49,189.93 L256.07,190.31 L256.65,190.68 L257.23,191.05 L257.81,191.42 L258.39,191.79 L258.98,192.16 L259.56,192.52 L260.14,192.89 L260.72,193.25 L261.30,193.62 L261.89,193.98 L262.47,194.34 L263.05,194.70 L263.63,195.06 L264.21,195.42 L264.79,195.77 L265.38,196.13 L265.96,196.49 L266.54,196.84 L267.12,197.20 L267.70,197.55 L268.29,197.90 L268.87,198.25 L269.45,198.60 L270.03,198.95 L270.61,199.30 L271.19,199.65 L271.78,199.99 L272.36,200.34 L272.94,200.69 L273.52,201.03 L274.10,201.38 L274.69,201.72 L275.27,202.06 L275.85,202.40 L276.43,202.74 L277.01,203.08 L277.59,203.42 L278.18,203.76 L278.76,204.10 L279.34,204.44 L279.92,204.77 L280.50,205.11 L281.09,205.44 L281.67,205.78 L282.25,206.11 L282.83,206.45 L283.41,206.78 L283.99,207.11 L284.58,207.44 L285.16,207.77 L285.74,208.10 L286.32,208.43 L286.90,208.76 L287.48,209.09 L288.07,209.42 L288.65,209.75 L289.23,210.07 L289.81,210.40 L290.39,210.72 L290.98,211.05 L291.56,211.37 L292.14,211.70 L292.72,212.02 L293.30,212.35 L293.88,212.67 L294.47,212.99 L295.05,213.31 L295.63,213.63 L296.21,213.96 L296.79,214.28 L297.38,214.60 L297.96,214.92 L298.54,215.23 L299.12,215.55 L299.70,215.87 L300.28,216.19 L300.87,216.51 L301.45,216.82 L302.03,217.14 L302.61,217.46 L303.19,217.77 L303.78,218.09 L304.36,218.40 L304.94,218.72 L305.52,219.03 L306.10,219.35 L306.68,219.66 L307.27,219.98 L307.85,220.29 L308.43,220.60 L309.01,220.91 L309.59,221.23 L310.18,221.54 L310.76,221.85 L311.34,222.16 L311.92,222.47 L312.50,222.78 L313.08,223.09 L313.67,223.40 L314.25,223.71 L314.83,224.02 L315.41,224.33 L315.99,224.64 L316.58,224.95 L317.16,225.26 L317.74,225.57 L318.32,225.87 L318.90,226.18 L319.48,226.49 L320.07,226.80 L320.65,227.10 L321.23,227.41 L321.81,227.72 L322.39,228.02 L322.97,228.33 L323.56,228.64 L324.14,228.94 L324.72,229.25 L325.30,229.55 L325.88,229.86 L326.47,230.16 L327.05,230.47 L327.63,230.77 L328.21,231.08 L328.79,231.38 L329.37,231.68 L329.96,231.99 L330.54,232.29 L331.12,232.59 L331.70,232.90 L332.28,233.20 L332.87,233.50 L333.45,233.81 L334.03,234.11 L334.61,234.41 L335.19,234.71 L335.77,235.02 L336.36,235.32 L336.94,235.62 L337.52,235.92 L338.10,236.22 L338.68,236.53 L339.27,236.83 L339.85,237.13 L340.43,237.43 L341.01,237.73 L341.59,238.03 L342.17,238.33 L342.76,238.63 L343.34,238.93 L343.92,239.23 L344.50,239.53 L345.08,239.83 L345.67,240.13 L346.25,240.43 L346.83,240.73 L347.41,241.03 L347.99,241.33 L348.57,241.63 L349.16,241.93 L349.74,242.23 L350.32,242.53 L350.90,242.83 L351.48,243.13 L352.07,243.43 L352.65,243.73 L353.23,244.02 L353.81,244.32 L354.39,244.62 L354.97,244.92 L355.56,245.22 L356.14,245.52 L356.72,245.82 L357.30,246.11 L357.88,246.41 L358.46,246.71 L359.05,247.01 L359.63,247.31 L360.21,247.60 L360.79,247.90 L361.37,248.20 L361.96,248.50 L362.54,248.79 L363.12,249.09 L363.70,249.39 L364.28,249.69 L364.86,249.98 L365.45,250.28 L366.03,250.58 L366.61,250.87 L367.19,251.17 L367.77,251.47 L368.36,251.76 L368.94,252.06 L369.52,252.36 L370.10,252.66 L370.68,252.95 L371.26,253.25 L371.85,253.55 L372.43,253.84 L373.01,254.14 L373.59,254.43 L374.17,254.73 L374.76,255.03 L375.34,255.32 L375.92,255.62 L376.50,255.92 L377.08,256.21 L377.66,256.51 L378.25,256.80 L378.83,257.10 L379.41,257.40 L379.99,257.69 L380.57,257.99 L381.16,258.28 L381.74,258.58 L382.32,258.88 L382.90,259.17 L383.48,259.47 L384.06,259.76 L384.65,260.06 L385.23,260.35 L385.81,260.65 L386.39,260.95 L386.97,261.24 L387.56,261.54 L388.14,261.83 L388.72,262.13 L389.30,262.42 L389.88,262.72 L390.46,263.01 L391.05,263.31 L391.63,263.60 L392.21,263.90 L392.79,264.19 L393.37,264.49 L393.95,264.78 L394.54,265.08 L395.12,265.38 L395.70,265.67 L396.28,265.97 L396.86,266.26 L397.45,266.56 L398.03,266.85 L398.61,267.15 L399.19,267.44 L399.77,267.74 L400.35,268.03 L400.94,268.33 L401.52,268.62 L402.10,268.91 L402.68,269.21 L403.26,269.50 L403.85,269.80 L404.43,270.09 L405.01,270.39 L405.59,270.68 L406.17,270.98 L406.75,271.27 L407.34,271.57 L407.92,271.86 L408.50,272.16" stroke="#e0a42c" stroke-width="1.75" stroke-dasharray="1.7,2.42"/>
</g>
<path d="M60.0,262.93h2.2 M60.0,259.93h2.2 M60.0,257.34h2.2 M60.0,255.05h2.2 M60.0,253.00h3.9 M60.0,239.53h2.2 M60.0,231.65h2.2 M60.0,226.06h2.2 M60.0,221.73h2.2 M60.0,218.19h2.2 M60.0,215.19h2.2 M60.0,212.60h2.2 M60.0,210.31h2.2 M60.0,208.26h3.9 M60.0,194.79h2.2 M60.0,186.91h2.2 M60.0,181.32h2.2 M60.0,176.99h2.2 M60.0,173.45h2.2 M60.0,170.45h2.2 M60.0,167.86h2.2 M60.0,165.57h2.2 M60.0,163.52h3.9 M60.0,150.05h2.2 M60.0,142.17h2.2 M60.0,136.58h2.2 M60.0,132.25h2.2 M60.0,128.71h2.2 M60.0,125.71h2.2 M60.0,123.12h2.2 M60.0,120.83h2.2 M60.0,118.78h3.9 M60.0,105.31h2.2 M60.0,97.43h2.2 M60.0,91.84h2.2 M60.0,87.51h2.2 M60.0,83.97h2.2 M60.0,80.97h2.2 M60.0,78.38h2.2 M60.0,76.09h2.2 M60.0,74.04h3.9 M60.0,60.57h2.2 M60.0,52.69h2.2 M60.0,47.10h2.2 M60.0,42.77h2.2 M60.0,39.23h2.2 M60.0,36.23h2.2 M60.0,33.64h2.2 M60.0,31.35h2.2 M60.0,29.30h3.9 M60.0,15.83h2.2 M60.0,7.95h2.2 M74.19,266.5v-2.2 M86.41,266.5v-2.2 M97.00,266.5v-2.2 M106.34,266.5v-2.2 M114.70,266.5v-3.9 M169.67,266.5v-2.2 M201.82,266.5v-2.2 M224.64,266.5v-2.2 M242.33,266.5v-2.2 M256.79,266.5v-2.2 M269.01,266.5v-2.2 M279.60,266.5v-2.2 M288.94,266.5v-2.2 M297.30,266.5v-3.9 M352.27,266.5v-2.2 M384.42,266.5v-2.2" stroke="#000" stroke-width="0.9" fill="none"/>
<rect x="60.0" y="7.5" width="347.5" height="259.0" fill="none" stroke="#000" stroke-width="0.85"/>
<rect x="259.5" y="30.5" width="148.0" height="110.94999999999999" fill="#fff"/>
<g clip-path="url(#ci)" fill="none">
<path d="M259.50,41.08 L259.87,41.07 L260.25,41.05 L260.62,41.03 L260.99,41.01 L261.37,40.99 L261.74,40.97 L262.11,40.95 L262.49,40.93 L262.86,40.91 L263.23,40.89 L263.61,40.87 L263.98,40.85 L264.35,40.84 L264.73,40.82 L265.10,40.80 L265.47,40.78 L265.85,40.76 L266.22,40.74 L266.60,40.73 L266.97,40.71 L267.34,40.69 L267.72,40.67 L268.09,40.66 L268.46,40.64 L268.84,40.62 L269.21,40.60 L269.58,40.59 L269.96,40.57 L270.33,40.56 L270.70,40.54 L271.08,40.53 L271.45,40.51 L271.82,40.50 L272.20,40.48 L272.57,40.47 L272.94,40.46 L273.32,40.44 L273.69,40.43 L274.06,40.42 L274.44,40.41 L274.81,40.40 L275.18,40.39 L275.56,40.38 L275.93,40.37 L276.30,40.36 L276.68,40.36 L277.05,40.35 L277.42,40.35 L277.80,40.34 L278.17,40.34 L278.55,40.33 L278.92,40.33 L279.29,40.33 L279.67,40.33 L280.04,40.33 L280.41,40.34 L280.79,40.34 L281.16,40.34 L281.53,40.35 L281.91,40.36 L282.28,40.37 L282.65,40.38 L283.03,40.39 L283.40,40.40 L283.77,40.42 L284.15,40.43 L284.52,40.45 L284.89,40.47 L285.27,40.49 L285.64,40.52 L286.01,40.55 L286.39,40.57 L286.76,40.60 L287.13,40.64 L287.51,40.67 L287.88,40.71 L288.25,40.75 L288.63,40.79 L289.00,40.83 L289.37,40.88 L289.75,40.93 L290.12,40.98 L290.49,41.04 L290.87,41.09 L291.24,41.15 L291.62,41.22 L291.99,41.28 L292.36,41.35 L292.74,41.43 L293.11,41.50 L293.48,41.58 L293.86,41.66 L294.23,41.75 L294.60,41.84 L294.98,41.93 L295.35,42.02 L295.72,42.12 L296.10,42.22 L296.47,42.33 L296.84,42.43 L297.22,42.55 L297.59,42.66 L297.96,42.78 L298.34,42.90 L298.71,43.03 L299.08,43.15 L299.46,43.29 L299.83,43.42 L300.20,43.56 L300.58,43.70 L300.95,43.84 L301.32,43.99 L301.70,44.14 L302.07,44.30 L302.44,44.45 L302.82,44.61 L303.19,44.78 L303.57,44.94 L303.94,45.11 L304.31,45.28 L304.69,45.46 L305.06,45.63 L305.43,45.81 L305.81,45.99 L306.18,46.18 L306.55,46.37 L306.93,46.56 L307.30,46.75 L307.67,46.94 L308.05,47.14 L308.42,47.33 L308.79,47.53 L309.17,47.74 L309.54,47.94 L309.91,48.15 L310.29,48.35 L310.66,48.56 L311.03,48.77 L311.41,48.99 L311.78,49.20 L312.15,49.41 L312.53,49.63 L312.90,49.85 L313.27,50.07 L313.65,50.29 L314.02,50.51 L314.39,50.73 L314.77,50.96 L315.14,51.18 L315.52,51.41 L315.89,51.64 L316.26,51.86 L316.64,52.09 L317.01,52.32 L317.38,52.55 L317.76,52.78 L318.13,53.01 L318.50,53.25 L318.88,53.48 L319.25,53.71 L319.62,53.95 L320.00,54.18 L320.37,54.41 L320.74,54.65 L321.12,54.89 L321.49,55.12 L321.86,55.36 L322.24,55.59 L322.61,55.83 L322.98,56.07 L323.36,56.31 L323.73,56.54 L324.10,56.78 L324.48,57.02 L324.85,57.26 L325.22,57.50 L325.60,57.73 L325.97,57.97 L326.34,58.21 L326.72,58.45 L327.09,58.69 L327.46,58.93 L327.84,59.17 L328.21,59.40 L328.59,59.64 L328.96,59.88 L329.33,60.12 L329.71,60.36 L330.08,60.60 L330.45,60.84 L330.83,61.08 L331.20,61.31 L331.57,61.55 L331.95,61.79 L332.32,62.03 L332.69,62.27 L333.07,62.50 L333.44,62.74 L333.81,62.98 L334.19,63.22 L334.56,63.45 L334.93,63.69 L335.31,63.93 L335.68,64.17 L336.05,64.40 L336.43,64.64 L336.80,64.87 L337.17,65.11 L337.55,65.35 L337.92,65.58 L338.29,65.82 L338.67,66.05 L339.04,66.29 L339.41,66.52 L339.79,66.76 L340.16,66.99 L340.54,67.23 L340.91,67.46 L341.28,67.69 L341.66,67.93 L342.03,68.16 L342.40,68.39 L342.78,68.63 L343.15,68.86 L343.52,69.09 L343.90,69.32 L344.27,69.55 L344.64,69.79 L345.02,70.02 L345.39,70.25 L345.76,70.48 L346.14,70.71 L346.51,70.94 L346.88,71.17 L347.26,71.40 L347.63,71.63 L348.00,71.86 L348.38,72.09 L348.75,72.32 L349.12,72.55 L349.50,72.77 L349.87,73.00 L350.24,73.23 L350.62,73.46 L350.99,73.69 L351.36,73.91 L351.74,74.14 L352.11,74.37 L352.48,74.59 L352.86,74.82 L353.23,75.04 L353.61,75.27 L353.98,75.49 L354.35,75.72 L354.73,75.94 L355.10,76.17 L355.47,76.39 L355.85,76.62 L356.22,76.84 L356.59,77.06 L356.97,77.29 L357.34,77.51 L357.71,77.73 L358.09,77.96 L358.46,78.18 L358.83,78.40 L359.21,78.62 L359.58,78.84 L359.95,79.07 L360.33,79.29 L360.70,79.51 L361.07,79.73 L361.45,79.95 L361.82,80.17 L362.19,80.39 L362.57,80.61 L362.94,80.83 L363.31,81.05 L363.69,81.26 L364.06,81.48 L364.43,81.70 L364.81,81.92 L365.18,82.14 L365.56,82.36 L365.93,82.57 L366.30,82.79 L366.68,83.01 L367.05,83.22 L367.42,83.44 L367.80,83.66 L368.17,83.87 L368.54,84.09 L368.92,84.30 L369.29,84.52 L369.66,84.74 L370.04,84.95 L370.41,85.17 L370.78,85.38 L371.16,85.59 L371.53,85.81 L371.90,86.02 L372.28,86.24 L372.65,86.45 L373.02,86.66 L373.40,86.88 L373.77,87.09 L374.14,87.30 L374.52,87.51 L374.89,87.73 L375.26,87.94 L375.64,88.15 L376.01,88.36 L376.38,88.57 L376.76,88.78 L377.13,89.00 L377.51,89.21 L377.88,89.42 L378.25,89.63 L378.63,89.84 L379.00,90.05 L379.37,90.26 L379.75,90.47 L380.12,90.68 L380.49,90.89 L380.87,91.10 L381.24,91.31 L381.61,91.51 L381.99,91.72 L382.36,91.93 L382.73,92.14 L383.11,92.35 L383.48,92.56 L383.85,92.76 L384.23,92.97 L384.60,93.18 L384.97,93.39 L385.35,93.59 L385.72,93.80 L386.09,94.01 L386.47,94.21 L386.84,94.42 L387.21,94.63 L387.59,94.83 L387.96,95.04 L388.33,95.24 L388.71,95.45 L389.08,95.65 L389.45,95.86 L389.83,96.06 L390.20,96.27 L390.58,96.47 L390.95,96.68 L391.32,96.88 L391.70,97.09 L392.07,97.29 L392.44,97.50 L392.82,97.70 L393.19,97.90 L393.56,98.11 L393.94,98.31 L394.31,98.51 L394.68,98.72 L395.06,98.92 L395.43,99.12 L395.80,99.33 L396.18,99.53 L396.55,99.73 L396.92,99.93 L397.30,100.14 L397.67,100.34 L398.04,100.54 L398.42,100.74 L398.79,100.94 L399.16,101.15 L399.54,101.35 L399.91,101.55 L400.28,101.75 L400.66,101.95 L401.03,102.15 L401.40,102.35 L401.78,102.55 L402.15,102.76 L402.53,102.96 L402.90,103.16 L403.27,103.36 L403.65,103.56 L404.02,103.76 L404.39,103.96 L404.77,104.16 L405.14,104.36 L405.51,104.56 L405.89,104.76 L406.26,104.96 L406.63,105.15 L407.01,105.35 L407.38,105.55 L407.75,105.75 L408.13,105.95 L408.50,106.15" stroke="#dcc42c" stroke-width="2.65"/>
<path d="M259.50,37.90 L259.87,37.86 L260.25,37.82 L260.62,37.78 L260.99,37.74 L261.37,37.70 L261.74,37.66 L262.11,37.62 L262.49,37.58 L262.86,37.55 L263.23,37.51 L263.61,37.47 L263.98,37.43 L264.35,37.39 L264.73,37.36 L265.10,37.32 L265.47,37.28 L265.85,37.25 L266.22,37.21 L266.60,37.17 L266.97,37.14 L267.34,37.10 L267.72,37.07 L268.09,37.03 L268.46,37.00 L268.84,36.97 L269.21,36.93 L269.58,36.90 L269.96,36.87 L270.33,36.83 L270.70,36.80 L271.08,36.77 L271.45,36.74 L271.82,36.71 L272.20,36.68 L272.57,36.65 L272.94,36.63 L273.32,36.60 L273.69,36.57 L274.06,36.55 L274.44,36.52 L274.81,36.50 L275.18,36.47 L275.56,36.45 L275.93,36.43 L276.30,36.41 L276.68,36.39 L277.05,36.37 L277.42,36.35 L277.80,36.33 L278.17,36.32 L278.55,36.30 L278.92,36.29 L279.29,36.28 L279.67,36.27 L280.04,36.26 L280.41,36.25 L280.79,36.24 L281.16,36.24 L281.53,36.24 L281.91,36.23 L282.28,36.23 L282.65,36.23 L283.03,36.24 L283.40,36.24 L283.77,36.25 L284.15,36.26 L284.52,36.27 L284.89,36.28 L285.27,36.30 L285.64,36.31 L286.01,36.33 L286.39,36.35 L286.76,36.38 L287.13,36.40 L287.51,36.43 L287.88,36.46 L288.25,36.49 L288.63,36.53 L289.00,36.57 L289.37,36.61 L289.75,36.65 L290.12,36.70 L290.49,36.75 L290.87,36.80 L291.24,36.86 L291.62,36.92 L291.99,36.98 L292.36,37.05 L292.74,37.11 L293.11,37.19 L293.48,37.26 L293.86,37.34 L294.23,37.42 L294.60,37.51 L294.98,37.59 L295.35,37.69 L295.72,37.78 L296.10,37.88 L296.47,37.98 L296.84,38.09 L297.22,38.20 L297.59,38.31 L297.96,38.43 L298.34,38.55 L298.71,38.67 L299.08,38.80 L299.46,38.93 L299.83,39.06 L300.20,39.20 L300.58,39.34 L300.95,39.48 L301.32,39.63 L301.70,39.78 L302.07,39.94 L302.44,40.09 L302.82,40.26 L303.19,40.42 L303.57,40.59 L303.94,40.76 L304.31,40.93 L304.69,41.11 L305.06,41.29 L305.43,41.47 L305.81,41.66 L306.18,41.85 L306.55,42.04 L306.93,42.23 L307.30,42.43 L307.67,42.63 L308.05,42.83 L308.42,43.04 L308.79,43.25 L309.17,43.46 L309.54,43.67 L309.91,43.88 L310.29,44.10 L310.66,44.32 L311.03,44.54 L311.41,44.76 L311.78,44.99 L312.15,45.21 L312.53,45.44 L312.90,45.67 L313.27,45.90 L313.65,46.14 L314.02,46.37 L314.39,46.61 L314.77,46.85 L315.14,47.09 L315.52,47.33 L315.89,47.57 L316.26,47.81 L316.64,48.06 L317.01,48.30 L317.38,48.55 L317.76,48.80 L318.13,49.05 L318.50,49.30 L318.88,49.55 L319.25,49.80 L319.62,50.05 L320.00,50.31 L320.37,50.56 L320.74,50.82 L321.12,51.07 L321.49,51.33 L321.86,51.58 L322.24,51.84 L322.61,52.10 L322.98,52.36 L323.36,52.62 L323.73,52.88 L324.10,53.14 L324.48,53.40 L324.85,53.66 L325.22,53.92 L325.60,54.18 L325.97,54.44 L326.34,54.70 L326.72,54.96 L327.09,55.23 L327.46,55.49 L327.84,55.75 L328.21,56.01 L328.59,56.28 L328.96,56.54 L329.33,56.80 L329.71,57.06 L330.08,57.33 L330.45,57.59 L330.83,57.85 L331.20,58.12 L331.57,58.38 L331.95,58.64 L332.32,58.90 L332.69,59.17 L333.07,59.43 L333.44,59.69 L333.81,59.95 L334.19,60.22 L334.56,60.48 L334.93,60.74 L335.31,61.00 L335.68,61.26 L336.05,61.53 L336.43,61.79 L336.80,62.05 L337.17,62.31 L337.55,62.57 L337.92,62.83 L338.29,63.09 L338.67,63.35 L339.04,63.61 L339.41,63.87 L339.79,64.13 L340.16,64.39 L340.54,64.65 L340.91,64.91 L341.28,65.16 L341.66,65.42 L342.03,65.68 L342.40,65.94 L342.78,66.19 L343.15,66.45 L343.52,66.71 L343.90,66.96 L344.27,67.22 L344.64,67.47 L345.02,67.73 L345.39,67.98 L345.76,68.24 L346.14,68.49 L346.51,68.74 L346.88,69.00 L347.26,69.25 L347.63,69.50 L348.00,69.75 L348.38,70.00 L348.75,70.26 L349.12,70.51 L349.50,70.76 L349.87,71.01 L350.24,71.26 L350.62,71.51 L350.99,71.76 L351.36,72.00 L351.74,72.25 L352.11,72.50 L352.48,72.75 L352.86,72.99 L353.23,73.24 L353.61,73.49 L353.98,73.73 L354.35,73.98 L354.73,74.22 L355.10,74.47 L355.47,74.71 L355.85,74.95 L356.22,75.20 L356.59,75.44 L356.97,75.68 L357.34,75.92 L357.71,76.17 L358.09,76.41 L358.46,76.65 L358.83,76.89 L359.21,77.13 L359.58,77.37 L359.95,77.61 L360.33,77.85 L360.70,78.08 L361.07,78.32 L361.45,78.56 L361.82,78.80 L362.19,79.03 L362.57,79.27 L362.94,79.50 L363.31,79.74 L363.69,79.97 L364.06,80.21 L364.43,80.44 L364.81,80.68 L365.18,80.91 L365.56,81.14 L365.93,81.37 L366.30,81.61 L366.68,81.84 L367.05,82.07 L367.42,82.30 L367.80,82.53 L368.17,82.76 L368.54,82.99 L368.92,83.22 L369.29,83.45 L369.66,83.68 L370.04,83.90 L370.41,84.13 L370.78,84.36 L371.16,84.58 L371.53,84.81 L371.90,85.04 L372.28,85.26 L372.65,85.49 L373.02,85.71 L373.40,85.94 L373.77,86.16 L374.14,86.38 L374.52,86.61 L374.89,86.83 L375.26,87.05 L375.64,87.27 L376.01,87.49 L376.38,87.72 L376.76,87.94 L377.13,88.16 L377.51,88.38 L377.88,88.60 L378.25,88.82 L378.63,89.03 L379.00,89.25 L379.37,89.47 L379.75,89.69 L380.12,89.91 L380.49,90.12 L380.87,90.34 L381.24,90.56 L381.61,90.77 L381.99,90.99 L382.36,91.20 L382.73,91.42 L383.11,91.63 L383.48,91.85 L383.85,92.06 L384.23,92.27 L384.60,92.49 L384.97,92.70 L385.35,92.91 L385.72,93.13 L386.09,93.34 L386.47,93.55 L386.84,93.76 L387.21,93.97 L387.59,94.18 L387.96,94.39 L388.33,94.60 L388.71,94.81 L389.08,95.02 L389.45,95.23 L389.83,95.44 L390.20,95.65 L390.58,95.86 L390.95,96.06 L391.32,96.27 L391.70,96.48 L392.07,96.69 L392.44,96.89 L392.82,97.10 L393.19,97.31 L393.56,97.51 L393.94,97.72 L394.31,97.92 L394.68,98.13 L395.06,98.33 L395.43,98.54 L395.80,98.74 L396.18,98.95 L396.55,99.15 L396.92,99.35 L397.30,99.56 L397.67,99.76 L398.04,99.96 L398.42,100.16 L398.79,100.37 L399.16,100.57 L399.54,100.77 L399.91,100.97 L400.28,101.17 L400.66,101.37 L401.03,101.58 L401.40,101.78 L401.78,101.98 L402.15,102.18 L402.53,102.38 L402.90,102.58 L403.27,102.77 L403.65,102.97 L404.02,103.17 L404.39,103.37 L404.77,103.57 L405.14,103.77 L405.51,103.97 L405.89,104.16 L406.26,104.36 L406.63,104.56 L407.01,104.76 L407.38,104.95 L407.75,105.15 L408.13,105.35 L408.50,105.54" stroke="#008000" stroke-width="1.75" stroke-dasharray="5.9,2.35"/>
<path d="M259.50,42.60 L259.87,42.71 L260.25,42.83 L260.62,42.95 L260.99,43.07 L261.37,43.19 L261.74,43.31 L262.11,43.44 L262.49,43.57 L262.86,43.70 L263.23,43.83 L263.61,43.96 L263.98,44.09 L264.35,44.23 L264.73,44.37 L265.10,44.51 L265.47,44.65 L265.85,44.79 L266.22,44.94 L266.60,45.09 L266.97,45.24 L267.34,45.40 L267.72,45.55 L268.09,45.71 L268.46,45.87 L268.84,46.03 L269.21,46.18 L269.58,46.34 L269.96,46.51 L270.33,46.67 L270.70,46.83 L271.08,47.00 L271.45,47.17 L271.82,47.34 L272.20,47.52 L272.57,47.70 L272.94,47.89 L273.32,48.08 L273.69,48.28 L274.06,48.49 L274.44,48.70 L274.81,48.92 L275.18,49.14 L275.56,49.37 L275.93,49.60 L276.30,49.84 L276.68,50.08 L277.05,50.32 L277.42,50.56 L277.80,50.81 L278.17,51.06 L278.55,51.31 L278.92,51.57 L279.29,51.83 L279.67,52.09 L280.04,52.36 L280.41,52.63 L280.79,52.90 L281.16,53.17 L281.53,53.45 L281.91,53.73 L282.28,54.02 L282.65,54.30 L283.03,54.59 L283.40,54.88 L283.77,55.18 L284.15,55.48 L284.52,55.78 L284.89,56.08 L285.27,56.38 L285.64,56.69 L286.01,57.01 L286.39,57.32 L286.76,57.65 L287.13,57.97 L287.51,58.30 L287.88,58.63 L288.25,58.96 L288.63,59.30 L289.00,59.64 L289.37,59.98 L289.75,60.33 L290.12,60.68 L290.49,61.03 L290.87,61.38 L291.24,61.73 L291.62,62.08 L291.99,62.44 L292.36,62.80 L292.74,63.16 L293.11,63.51 L293.48,63.87 L293.86,64.23 L294.23,64.59 L294.60,64.96 L294.98,65.32 L295.35,65.68 L295.72,66.04 L296.10,66.40 L296.47,66.77 L296.84,67.13 L297.22,67.50 L297.59,67.86 L297.96,68.23 L298.34,68.60 L298.71,68.97 L299.08,69.34 L299.46,69.71 L299.83,70.08 L300.20,70.46 L300.58,70.83 L300.95,71.21 L301.32,71.58 L301.70,71.96 L302.07,72.34 L302.44,72.72 L302.82,73.10 L303.19,73.48 L303.57,73.86 L303.94,74.24 L304.31,74.62 L304.69,75.01 L305.06,75.39 L305.43,75.77 L305.81,76.16 L306.18,76.54 L306.55,76.92 L306.93,77.30 L307.30,77.67 L307.67,78.05 L308.05,78.43 L308.42,78.81 L308.79,79.18 L309.17,79.56 L309.54,79.93 L309.91,80.31 L310.29,80.68 L310.66,81.06 L311.03,81.43 L311.41,81.81 L311.78,82.18 L312.15,82.56 L312.53,82.94 L312.90,83.31 L313.27,83.69 L313.65,84.07 L314.02,84.45 L314.39,84.83 L314.77,85.21 L315.14,85.60 L315.52,85.98 L315.89,86.36 L316.26,86.74 L316.64,87.12 L317.01,87.50 L317.38,87.88 L317.76,88.26 L318.13,88.63 L318.50,89.01 L318.88,89.38 L319.25,89.75 L319.62,90.12 L320.00,90.49 L320.37,90.86 L320.74,91.23 L321.12,91.59 L321.49,91.96 L321.86,92.32 L322.24,92.68 L322.61,93.04 L322.98,93.39 L323.36,93.75 L323.73,94.10 L324.10,94.45 L324.48,94.80 L324.85,95.15 L325.22,95.50 L325.60,95.84 L325.97,96.18 L326.34,96.52 L326.72,96.86 L327.09,97.20 L327.46,97.53 L327.84,97.86 L328.21,98.19 L328.59,98.52 L328.96,98.84 L329.33,99.17 L329.71,99.49 L330.08,99.81 L330.45,100.12 L330.83,100.44 L331.20,100.75 L331.57,101.06 L331.95,101.37 L332.32,101.68 L332.69,101.98 L333.07,102.28 L333.44,102.58 L333.81,102.88 L334.19,103.18 L334.56,103.47 L334.93,103.77 L335.31,104.06 L335.68,104.35 L336.05,104.63 L336.43,104.92 L336.80,105.20 L337.17,105.48 L337.55,105.76 L337.92,106.04 L338.29,106.31 L338.67,106.59 L339.04,106.86 L339.41,107.13 L339.79,107.40 L340.16,107.67 L340.54,107.93 L340.91,108.20 L341.28,108.46 L341.66,108.72 L342.03,108.98 L342.40,109.24 L342.78,109.50 L343.15,109.75 L343.52,110.01 L343.90,110.26 L344.27,110.51 L344.64,110.76 L345.02,111.01 L345.39,111.26 L345.76,111.50 L346.14,111.75 L346.51,111.99 L346.88,112.24 L347.26,112.48 L347.63,112.72 L348.00,112.96 L348.38,113.20 L348.75,113.44 L349.12,113.68 L349.50,113.91 L349.87,114.15 L350.24,114.38 L350.62,114.62 L350.99,114.85 L351.36,115.08 L351.74,115.32 L352.11,115.55 L352.48,115.78 L352.86,116.01 L353.23,116.24 L353.61,116.46 L353.98,116.69 L354.35,116.92 L354.73,117.15 L355.10,117.37 L355.47,117.60 L355.85,117.82 L356.22,118.05 L356.59,118.27 L356.97,118.49 L357.34,118.72 L357.71,118.94 L358.09,119.16 L358.46,119.38 L358.83,119.61 L359.21,119.83 L359.58,120.05 L359.95,120.27 L360.33,120.49 L360.70,120.71 L361.07,120.93 L361.45,121.14 L361.82,121.36 L362.19,121.58 L362.57,121.80 L362.94,122.02 L363.31,122.23 L363.69,122.45 L364.06,122.67 L364.43,122.89 L364.81,123.10 L365.18,123.32 L365.56,123.53 L365.93,123.75 L366.30,123.97 L366.68,124.18 L367.05,124.40 L367.42,124.61 L367.80,124.83 L368.17,125.04 L368.54,125.26 L368.92,125.47 L369.29,125.69 L369.66,125.90 L370.04,126.11 L370.41,126.33 L370.78,126.54 L371.16,126.76 L371.53,126.97 L371.90,127.18 L372.28,127.40 L372.65,127.61 L373.02,127.82 L373.40,128.04 L373.77,128.25 L374.14,128.46 L374.52,128.68 L374.89,128.89 L375.26,129.10 L375.64,129.31 L376.01,129.53 L376.38,129.74 L376.76,129.95 L377.13,130.16 L377.51,130.38 L377.88,130.59 L378.25,130.80 L378.63,131.01 L379.00,131.23 L379.37,131.44 L379.75,131.65 L380.12,131.86 L380.49,132.07 L380.87,132.29 L381.24,132.50 L381.61,132.71 L381.99,132.92 L382.36,133.14 L382.73,133.35 L383.11,133.56 L383.48,133.77 L383.85,133.98 L384.23,134.19 L384.60,134.41 L384.97,134.62 L385.35,134.83 L385.72,135.04 L386.09,135.25 L386.47,135.47 L386.84,135.68 L387.21,135.89 L387.59,136.10 L387.96,136.31 L388.33,136.52 L388.71,136.74 L389.08,136.95 L389.45,137.16 L389.83,137.37 L390.20,137.58 L390.58,137.79 L390.95,138.01 L391.32,138.22 L391.70,138.43 L392.07,138.64 L392.44,138.85 L392.82,139.06 L393.19,139.27 L393.56,139.49 L393.94,139.70 L394.31,139.91 L394.68,140.12 L395.06,140.33 L395.43,140.54 L395.80,140.76 L396.18,140.97 L396.55,141.18 L396.92,141.39 L397.30,141.60 L397.67,141.81 L398.04,142.03 L398.42,142.24 L398.79,142.45 L399.16,142.66 L399.54,142.87 L399.91,143.08 L400.28,143.30 L400.66,143.51 L401.03,143.72 L401.40,143.93 L401.78,144.14 L402.15,144.35 L402.53,144.57 L402.90,144.78 L403.27,144.99 L403.65,145.20 L404.02,145.41 L404.39,145.62 L404.77,145.84 L405.14,146.05 L405.51,146.26 L405.89,146.47 L406.26,146.68 L406.63,146.90 L407.01,147.11 L407.38,147.32 L407.75,147.53 L408.13,147.74 L408.50,147.95" stroke="#25d4d8" stroke-width="2.65"/>
<path d="M259.50,40.09 L259.87,40.21 L260.25,40.34 L260.62,40.47 L260.99,40.60 L261.37,40.73 L261.74,40.86 L262.11,41.00 L262.49,41.14 L262.86,41.28 L263.23,41.43 L263.61,41.57 L263.98,41.72 L264.35,41.87 L264.73,42.03 L265.10,42.18 L265.47,42.34 L265.85,42.50 L266.22,42.66 L266.60,42.83 L266.97,43.00 L267.34,43.17 L267.72,43.34 L268.09,43.51 L268.46,43.69 L268.84,43.87 L269.21,44.05 L269.58,44.24 L269.96,44.43 L270.33,44.62 L270.70,44.81 L271.08,45.01 L271.45,45.21 L271.82,45.41 L272.20,45.61 L272.57,45.82 L272.94,46.03 L273.32,46.24 L273.69,46.45 L274.06,46.67 L274.44,46.89 L274.81,47.12 L275.18,47.34 L275.56,47.57 L275.93,47.80 L276.30,48.03 L276.68,48.27 L277.05,48.51 L277.42,48.75 L277.80,49.00 L278.17,49.25 L278.55,49.50 L278.92,49.75 L279.29,50.01 L279.67,50.27 L280.04,50.53 L280.41,50.79 L280.79,51.06 L281.16,51.33 L281.53,51.60 L281.91,51.88 L282.28,52.16 L282.65,52.44 L283.03,52.72 L283.40,53.01 L283.77,53.30 L284.15,53.59 L284.52,53.88 L284.89,54.18 L285.27,54.48 L285.64,54.78 L286.01,55.09 L286.39,55.39 L286.76,55.70 L287.13,56.02 L287.51,56.33 L287.88,56.65 L288.25,56.97 L288.63,57.29 L289.00,57.61 L289.37,57.94 L289.75,58.27 L290.12,58.60 L290.49,58.94 L290.87,59.27 L291.24,59.61 L291.62,59.95 L291.99,60.30 L292.36,60.64 L292.74,60.99 L293.11,61.34 L293.48,61.69 L293.86,62.04 L294.23,62.40 L294.60,62.76 L294.98,63.12 L295.35,63.48 L295.72,63.84 L296.10,64.21 L296.47,64.57 L296.84,64.94 L297.22,65.31 L297.59,65.68 L297.96,66.06 L298.34,66.43 L298.71,66.81 L299.08,67.18 L299.46,67.56 L299.83,67.94 L300.20,68.33 L300.58,68.71 L300.95,69.09 L301.32,69.48 L301.70,69.87 L302.07,70.25 L302.44,70.64 L302.82,71.03 L303.19,71.42 L303.57,71.82 L303.94,72.21 L304.31,72.60 L304.69,73.00 L305.06,73.39 L305.43,73.79 L305.81,74.18 L306.18,74.58 L306.55,74.98 L306.93,75.37 L307.30,75.77 L307.67,76.17 L308.05,76.57 L308.42,76.97 L308.79,77.36 L309.17,77.76 L309.54,78.16 L309.91,78.56 L310.29,78.96 L310.66,79.36 L311.03,79.75 L311.41,80.15 L311.78,80.55 L312.15,80.95 L312.53,81.34 L312.90,81.74 L313.27,82.13 L313.65,82.53 L314.02,82.92 L314.39,83.32 L314.77,83.71 L315.14,84.10 L315.52,84.49 L315.89,84.88 L316.26,85.27 L316.64,85.66 L317.01,86.04 L317.38,86.43 L317.76,86.81 L318.13,87.19 L318.50,87.57 L318.88,87.95 L319.25,88.33 L319.62,88.71 L320.00,89.09 L320.37,89.46 L320.74,89.83 L321.12,90.20 L321.49,90.57 L321.86,90.94 L322.24,91.30 L322.61,91.67 L322.98,92.03 L323.36,92.39 L323.73,92.74 L324.10,93.10 L324.48,93.45 L324.85,93.80 L325.22,94.15 L325.60,94.50 L325.97,94.85 L326.34,95.19 L326.72,95.53 L327.09,95.87 L327.46,96.21 L327.84,96.54 L328.21,96.88 L328.59,97.21 L328.96,97.54 L329.33,97.86 L329.71,98.19 L330.08,98.51 L330.45,98.83 L330.83,99.14 L331.20,99.46 L331.57,99.77 L331.95,100.08 L332.32,100.39 L332.69,100.70 L333.07,101.01 L333.44,101.31 L333.81,101.61 L334.19,101.91 L334.56,102.20 L334.93,102.50 L335.31,102.79 L335.68,103.08 L336.05,103.37 L336.43,103.66 L336.80,103.94 L337.17,104.23 L337.55,104.51 L337.92,104.79 L338.29,105.06 L338.67,105.34 L339.04,105.61 L339.41,105.89 L339.79,106.16 L340.16,106.43 L340.54,106.69 L340.91,106.96 L341.28,107.22 L341.66,107.49 L342.03,107.75 L342.40,108.01 L342.78,108.27 L343.15,108.52 L343.52,108.78 L343.90,109.03 L344.27,109.29 L344.64,109.54 L345.02,109.79 L345.39,110.04 L345.76,110.29 L346.14,110.53 L346.51,110.78 L346.88,111.03 L347.26,111.27 L347.63,111.51 L348.00,111.75 L348.38,111.99 L348.75,112.23 L349.12,112.47 L349.50,112.71 L349.87,112.95 L350.24,113.19 L350.62,113.42 L350.99,113.66 L351.36,113.89 L351.74,114.12 L352.11,114.36 L352.48,114.59 L352.86,114.82 L353.23,115.05 L353.61,115.28 L353.98,115.51 L354.35,115.74 L354.73,115.97 L355.10,116.19 L355.47,116.42 L355.85,116.65 L356.22,116.87 L356.59,117.10 L356.97,117.32 L357.34,117.55 L357.71,117.77 L358.09,118.00 L358.46,118.22 L358.83,118.44 L359.21,118.66 L359.58,118.89 L359.95,119.11 L360.33,119.33 L360.70,119.55 L361.07,119.77 L361.45,119.99 L361.82,120.21 L362.19,120.43 L362.57,120.65 L362.94,120.87 L363.31,121.09 L363.69,121.31 L364.06,121.53 L364.43,121.74 L364.81,121.96 L365.18,122.18 L365.56,122.40 L365.93,122.61 L366.30,122.83 L366.68,123.05 L367.05,123.26 L367.42,123.48 L367.80,123.70 L368.17,123.91 L368.54,124.13 L368.92,124.35 L369.29,124.56 L369.66,124.78 L370.04,124.99 L370.41,125.21 L370.78,125.42 L371.16,125.64 L371.53,125.85 L371.90,126.07 L372.28,126.28 L372.65,126.50 L373.02,126.71 L373.40,126.93 L373.77,127.14 L374.14,127.36 L374.52,127.57 L374.89,127.79 L375.26,128.00 L375.64,128.21 L376.01,128.43 L376.38,128.64 L376.76,128.86 L377.13,129.07 L377.51,129.28 L377.88,129.50 L378.25,129.71 L378.63,129.92 L379.00,130.14 L379.37,130.35 L379.75,130.57 L380.12,130.78 L380.49,130.99 L380.87,131.21 L381.24,131.42 L381.61,131.63 L381.99,131.85 L382.36,132.06 L382.73,132.27 L383.11,132.48 L383.48,132.70 L383.85,132.91 L384.23,133.12 L384.60,133.34 L384.97,133.55 L385.35,133.76 L385.72,133.98 L386.09,134.19 L386.47,134.40 L386.84,134.61 L387.21,134.83 L387.59,135.04 L387.96,135.25 L388.33,135.47 L388.71,135.68 L389.08,135.89 L389.45,136.10 L389.83,136.32 L390.20,136.53 L390.58,136.74 L390.95,136.96 L391.32,137.17 L391.70,137.38 L392.07,137.59 L392.44,137.81 L392.82,138.02 L393.19,138.23 L393.56,138.45 L393.94,138.66 L394.31,138.87 L394.68,139.08 L395.06,139.30 L395.43,139.51 L395.80,139.72 L396.18,139.93 L396.55,140.15 L396.92,140.36 L397.30,140.57 L397.67,140.78 L398.04,141.00 L398.42,141.21 L398.79,141.42 L399.16,141.64 L399.54,141.85 L399.91,142.06 L400.28,142.27 L400.66,142.49 L401.03,142.70 L401.40,142.91 L401.78,143.12 L402.15,143.34 L402.53,143.55 L402.90,143.76 L403.27,143.97 L403.65,144.19 L404.02,144.40 L404.39,144.61 L404.77,144.82 L405.14,145.04 L405.51,145.25 L405.89,145.46 L406.26,145.68 L406.63,145.89 L407.01,146.10 L407.38,146.31 L407.75,146.53 L408.13,146.74 L408.50,146.95" stroke="#20207a" stroke-width="1.75" stroke-dasharray="5.9,2.35"/>
</g>
<path d="M259.5,141.45h2.2 M259.5,140.50h3.9 M259.5,134.27h2.2 M259.5,130.62h2.2 M259.5,128.04h2.2 M259.5,126.03h2.2 M259.5,124.39h2.2 M259.5,123.01h2.2 M259.5,121.81h2.2 M259.5,120.75h2.2 M259.5,119.80h3.9 M259.5,113.57h2.2 M259.5,109.92h2.2 M259.5,107.34h2.2 M259.5,105.33h2.2 M259.5,103.69h2.2 M259.5,102.31h2.2 M259.5,101.11h2.2 M259.5,100.05h2.2 M259.5,99.10h3.9 M259.5,92.87h2.2 M259.5,89.22h2.2 M259.5,86.64h2.2 M259.5,84.63h2.2 M259.5,82.99h2.2 M259.5,81.61h2.2 M259.5,80.41h2.2 M259.5,79.35h2.2 M259.5,78.40h3.9 M259.5,72.17h2.2 M259.5,68.52h2.2 M259.5,65.94h2.2 M259.5,63.93h2.2 M259.5,62.29h2.2 M259.5,60.91h2.2 M259.5,59.71h2.2 M259.5,58.65h2.2 M259.5,57.70h3.9 M259.5,51.47h2.2 M259.5,47.82h2.2 M259.5,45.24h2.2 M259.5,43.23h2.2 M259.5,41.59h2.2 M259.5,40.21h2.2 M259.5,39.01h2.2 M259.5,37.95h2.2 M259.5,37.00h3.9 M265.22,141.45v-2.2 M270.43,141.45v-2.2 M274.95,141.45v-2.2 M278.94,141.45v-2.2 M282.50,141.45v-3.9 M305.95,141.45v-2.2 M319.67,141.45v-2.2 M329.40,141.45v-2.2 M336.95,141.45v-2.2 M343.12,141.45v-2.2 M348.33,141.45v-2.2 M352.85,141.45v-2.2 M356.84,141.45v-2.2 M360.40,141.45v-3.9 M383.85,141.45v-2.2 M397.57,141.45v-2.2" stroke="#000" stroke-width="0.9" fill="none"/>
<rect x="259.5" y="30.5" width="148.0" height="110.94999999999999" fill="none" stroke="#000" stroke-width="0.85"/>
<g font-family="'Liberation Sans', sans-serif" fill="#000" stroke="#000" stroke-width="0.25" style="filter:grayscale(1)">
<text x="26.50" y="257.60" font-size="13.00" textLength="14.92" lengthAdjust="spacingAndGlyphs">10</text><text x="42.37" y="252.68" font-size="9.10" textLength="6.31" lengthAdjust="spacingAndGlyphs">−</text><text x="49.57" y="252.68" font-size="9.10" textLength="4.55" lengthAdjust="spacingAndGlyphs">5</text>
<text x="26.50" y="212.86" font-size="13.00" textLength="14.92" lengthAdjust="spacingAndGlyphs">10</text><text x="42.37" y="207.94" font-size="9.10" textLength="6.31" lengthAdjust="spacingAndGlyphs">−</text><text x="49.45" y="207.94" font-size="9.10" textLength="4.83" lengthAdjust="spacingAndGlyphs">4</text>
<text x="26.50" y="168.12" font-size="13.00" textLength="14.92" lengthAdjust="spacingAndGlyphs">10</text><text x="42.37" y="163.20" font-size="9.10" textLength="6.31" lengthAdjust="spacingAndGlyphs">−</text><text x="49.58" y="163.20" font-size="9.10" textLength="4.69" lengthAdjust="spacingAndGlyphs">3</text>
<text x="26.50" y="123.38" font-size="13.00" textLength="14.92" lengthAdjust="spacingAndGlyphs">10</text><text x="42.37" y="118.46" font-size="9.10" textLength="6.31" lengthAdjust="spacingAndGlyphs">−</text><text x="49.49" y="118.46" font-size="9.10" textLength="4.58" lengthAdjust="spacingAndGlyphs">2</text>
<text x="26.50" y="78.64" font-size="13.00" textLength="14.92" lengthAdjust="spacingAndGlyphs">10</text><text x="42.37" y="73.72" font-size="9.10" textLength="6.31" lengthAdjust="spacingAndGlyphs">−</text><text x="49.66" y="73.72" font-size="9.10" textLength="4.51" lengthAdjust="spacingAndGlyphs">1</text>
<text x="33.60" y="33.90" font-size="13.00" textLength="14.92" lengthAdjust="spacingAndGlyphs">10</text><text x="49.41" y="28.98" font-size="9.10" textLength="4.80" lengthAdjust="spacingAndGlyphs">0</text>
<text x="104.04" y="280.00" font-size="13.00" textLength="14.92" lengthAdjust="spacingAndGlyphs">10</text><text x="119.77" y="275.08" font-size="9.10" textLength="4.58" lengthAdjust="spacingAndGlyphs">2</text>
<text x="286.52" y="280.00" font-size="13.00" textLength="14.92" lengthAdjust="spacingAndGlyphs">10</text><text x="302.34" y="275.08" font-size="9.10" textLength="4.69" lengthAdjust="spacingAndGlyphs">3</text>
<text x="226.10" y="145.00" font-size="13.00" textLength="14.92" lengthAdjust="spacingAndGlyphs">10</text><text x="241.97" y="140.08" font-size="9.10" textLength="6.31" lengthAdjust="spacingAndGlyphs">−</text><text x="249.05" y="140.08" font-size="9.10" textLength="4.97" lengthAdjust="spacingAndGlyphs">6</text>
<text x="226.10" y="124.30" font-size="13.00" textLength="14.92" lengthAdjust="spacingAndGlyphs">10</text><text x="241.97" y="119.38" font-size="9.10" textLength="6.31" lengthAdjust="spacingAndGlyphs">−</text><text x="249.17" y="119.38" font-size="9.10" textLength="4.55" lengthAdjust="spacingAndGlyphs">5</text>
<text x="226.10" y="103.60" font-size="13.00" textLength="14.92" lengthAdjust="spacingAndGlyphs">10</text><text x="241.97" y="98.68" font-size="9.10" textLength="6.31" lengthAdjust="spacingAndGlyphs">−</text><text x="249.05" y="98.68" font-size="9.10" textLength="4.83" lengthAdjust="spacingAndGlyphs">4</text>
<text x="226.10" y="82.90" font-size="13.00" textLength="14.92" lengthAdjust="spacingAndGlyphs">10</text><text x="241.97" y="77.98" font-size="9.10" textLength="6.31" lengthAdjust="spacingAndGlyphs">−</text><text x="249.18" y="77.98" font-size="9.10" textLength="4.69" lengthAdjust="spacingAndGlyphs">3</text>
<text x="226.10" y="62.20" font-size="13.00" textLength="14.92" lengthAdjust="spacingAndGlyphs">10</text><text x="241.97" y="57.28" font-size="9.10" textLength="6.31" lengthAdjust="spacingAndGlyphs">−</text><text x="249.09" y="57.28" font-size="9.10" textLength="4.58" lengthAdjust="spacingAndGlyphs">2</text>
<text x="226.10" y="41.50" font-size="13.00" textLength="14.92" lengthAdjust="spacingAndGlyphs">10</text><text x="241.97" y="36.58" font-size="9.10" textLength="6.31" lengthAdjust="spacingAndGlyphs">−</text><text x="249.26" y="36.58" font-size="9.10" textLength="4.51" lengthAdjust="spacingAndGlyphs">1</text>
<text x="271.84" y="154.60" font-size="13.00" textLength="14.92" lengthAdjust="spacingAndGlyphs">10</text><text x="287.57" y="149.68" font-size="9.10" textLength="4.58" lengthAdjust="spacingAndGlyphs">2</text>
<text x="349.62" y="154.60" font-size="13.00" textLength="14.92" lengthAdjust="spacingAndGlyphs">10</text><text x="365.44" y="149.68" font-size="9.10" textLength="4.69" lengthAdjust="spacingAndGlyphs">3</text>
<text x="217.94" y="295.70" font-size="13.00" font-style="italic" textLength="8.03" lengthAdjust="spacingAndGlyphs">T</text><text x="230.51" y="295.70" font-size="13.00" textLength="3.30" lengthAdjust="spacingAndGlyphs">(</text><text x="235.27" y="295.70" font-size="13.00" textLength="7.99" lengthAdjust="spacingAndGlyphs">K</text><text x="244.07" y="295.70" font-size="13.00" textLength="3.14" lengthAdjust="spacingAndGlyphs">)</text>
<text x="317.24" y="166.00" font-size="13.00" font-style="italic" textLength="8.03" lengthAdjust="spacingAndGlyphs">T</text><text x="329.81" y="166.00" font-size="13.00" textLength="3.30" lengthAdjust="spacingAndGlyphs">(</text><text x="334.57" y="166.00" font-size="13.00" textLength="7.99" lengthAdjust="spacingAndGlyphs">K</text><text x="343.37" y="166.00" font-size="13.00" textLength="3.14" lengthAdjust="spacingAndGlyphs">)</text>
<g transform="translate(18.80,175.60) rotate(-90)"><text x="-0.42" y="0.00" font-size="13.00" font-style="italic" textLength="7.18" lengthAdjust="spacingAndGlyphs">u</text><text x="7.98" y="-4.92" font-size="9.10" font-style="italic" textLength="4.39" lengthAdjust="spacingAndGlyphs">x</text><text x="17.64" y="0.00" font-size="13.00" textLength="3.30" lengthAdjust="spacingAndGlyphs">(</text><text x="22.15" y="0.00" font-size="13.00" font-style="italic" textLength="7.19" lengthAdjust="spacingAndGlyphs">μ</text><text x="30.20" y="0.00" font-size="13.00" textLength="11.59" lengthAdjust="spacingAndGlyphs">m</text><text x="46.26" y="0.00" font-size="13.00" textLength="13.71" lengthAdjust="spacingAndGlyphs">ns</text><text x="60.84" y="-4.92" font-size="9.10" textLength="6.31" lengthAdjust="spacingAndGlyphs">−</text><text x="68.26" y="-4.92" font-size="9.10" textLength="4.51" lengthAdjust="spacingAndGlyphs">1</text><text x="74.69" y="0.00" font-size="13.00" textLength="3.14" lengthAdjust="spacingAndGlyphs">)</text></g>
<g transform="translate(216.70,130.20) rotate(-90)"><text x="-0.42" y="0.00" font-size="13.00" font-style="italic" textLength="7.18" lengthAdjust="spacingAndGlyphs">u</text><text x="7.98" y="-4.92" font-size="9.10" font-style="italic" textLength="4.39" lengthAdjust="spacingAndGlyphs">x</text><text x="17.64" y="0.00" font-size="13.00" textLength="3.30" lengthAdjust="spacingAndGlyphs">(</text><text x="22.15" y="0.00" font-size="13.00" font-style="italic" textLength="7.19" lengthAdjust="spacingAndGlyphs">μ</text><text x="30.20" y="0.00" font-size="13.00" textLength="11.59" lengthAdjust="spacingAndGlyphs">m</text><text x="46.26" y="0.00" font-size="13.00" textLength="13.71" lengthAdjust="spacingAndGlyphs">ns</text><text x="60.84" y="-4.92" font-size="9.10" textLength="6.31" lengthAdjust="spacingAndGlyphs">−</text><text x="68.26" y="-4.92" font-size="9.10" textLength="4.51" lengthAdjust="spacingAndGlyphs">1</text><text x="74.69" y="0.00" font-size="13.00" textLength="3.14" lengthAdjust="spacingAndGlyphs">)</text></g>
<text x="99.28" y="192.20" font-size="13.00" font-style="italic" textLength="7.18" lengthAdjust="spacingAndGlyphs">u</text><text x="107.24" y="194.17" font-size="9.10" textLength="4.80" lengthAdjust="spacingAndGlyphs">0</text><text x="113.21" y="192.20" font-size="13.00" textLength="3.30" lengthAdjust="spacingAndGlyphs">(</text><text x="117.93" y="192.20" font-size="13.00" textLength="14.82" lengthAdjust="spacingAndGlyphs">15</text><text x="137.60" y="192.20" font-size="13.00" font-style="italic" textLength="7.19" lengthAdjust="spacingAndGlyphs">μ</text><text x="145.53" y="192.20" font-size="13.00" textLength="11.59" lengthAdjust="spacingAndGlyphs">m</text><text x="158.39" y="192.20" font-size="13.00" textLength="3.14" lengthAdjust="spacingAndGlyphs">)</text>
<text x="99.28" y="211.80" font-size="13.00" font-style="italic" textLength="7.18" lengthAdjust="spacingAndGlyphs">u</text><text x="106.95" y="213.77" font-size="9.10" font-style="italic" textLength="4.58" lengthAdjust="spacingAndGlyphs">L</text><text x="112.46" y="211.80" font-size="13.00" textLength="3.30" lengthAdjust="spacingAndGlyphs">(</text><text x="117.32" y="211.80" font-size="13.00" textLength="14.69" lengthAdjust="spacingAndGlyphs">15</text><text x="136.85" y="211.80" font-size="13.00" font-style="italic" textLength="7.19" lengthAdjust="spacingAndGlyphs">μ</text><text x="144.78" y="211.80" font-size="13.00" textLength="11.59" lengthAdjust="spacingAndGlyphs">m</text><text x="157.64" y="211.80" font-size="13.00" textLength="3.14" lengthAdjust="spacingAndGlyphs">)</text>
<text x="99.28" y="231.40" font-size="13.00" font-style="italic" textLength="7.18" lengthAdjust="spacingAndGlyphs">u</text><text x="106.94" y="233.37" font-size="9.10" font-style="italic" textLength="6.00" lengthAdjust="spacingAndGlyphs">H</text><text x="114.21" y="231.40" font-size="13.00" textLength="3.30" lengthAdjust="spacingAndGlyphs">(</text><text x="119.07" y="231.40" font-size="13.00" textLength="14.69" lengthAdjust="spacingAndGlyphs">15</text><text x="138.60" y="231.40" font-size="13.00" font-style="italic" textLength="7.19" lengthAdjust="spacingAndGlyphs">μ</text><text x="146.53" y="231.40" font-size="13.00" textLength="11.59" lengthAdjust="spacingAndGlyphs">m</text><text x="159.39" y="231.40" font-size="13.00" textLength="3.14" lengthAdjust="spacingAndGlyphs">)</text>
<path d="M102.55,241.50L100.53,246.86L102.55,252.23" fill="none" stroke="#000" stroke-width="1.06" stroke-linejoin="miter"/><text x="103.86" y="250.80" font-size="13.00" font-style="italic" textLength="7.18" lengthAdjust="spacingAndGlyphs">u</text><text x="112.38" y="245.88" font-size="9.10" font-style="italic" textLength="4.39" lengthAdjust="spacingAndGlyphs">x</text><path d="M118.62,241.50L120.65,246.86L118.62,252.23" fill="none" stroke="#000" stroke-width="1.06" stroke-linejoin="miter"/><text x="122.91" y="250.80" font-size="13.00" textLength="3.30" lengthAdjust="spacingAndGlyphs">(</text><text x="127.63" y="250.80" font-size="13.00" textLength="14.82" lengthAdjust="spacingAndGlyphs">15</text><text x="147.30" y="250.80" font-size="13.00" font-style="italic" textLength="7.19" lengthAdjust="spacingAndGlyphs">μ</text><text x="155.23" y="250.80" font-size="13.00" textLength="11.59" lengthAdjust="spacingAndGlyphs">m</text><text x="168.09" y="250.80" font-size="13.00" textLength="3.14" lengthAdjust="spacingAndGlyphs">)</text>
<text x="271.81" y="92.90" font-size="9.75" font-style="italic" stroke-width="0.06" textLength="5.56" lengthAdjust="spacingAndGlyphs">u</text><text x="277.71" y="94.38" font-size="6.82" stroke-width="0.06" textLength="3.86" lengthAdjust="spacingAndGlyphs">0</text><text x="282.25" y="92.90" font-size="9.75" stroke-width="0.06" textLength="2.59" lengthAdjust="spacingAndGlyphs">(</text><text x="285.89" y="92.90" font-size="9.75" stroke-width="0.06" textLength="5.24" lengthAdjust="spacingAndGlyphs">1</text><text x="291.69" y="92.90" font-size="9.75" font-style="italic" stroke-width="0.06" textLength="5.52" lengthAdjust="spacingAndGlyphs">μ</text><text x="297.66" y="92.90" font-size="9.75" stroke-width="0.06" textLength="8.70" lengthAdjust="spacingAndGlyphs">m</text><text x="307.31" y="92.90" font-size="9.75" stroke-width="0.06" textLength="2.59" lengthAdjust="spacingAndGlyphs">)</text>
<path d="M274.30,100.65L272.90,104.64L274.30,108.62" fill="none" stroke="#000" stroke-width="0.79" stroke-linejoin="miter"/><text x="275.26" y="107.70" font-size="9.75" font-style="italic" stroke-width="0.06" textLength="5.56" lengthAdjust="spacingAndGlyphs">u</text><text x="281.58" y="104.01" font-size="6.82" font-style="italic" stroke-width="0.06" textLength="3.46" lengthAdjust="spacingAndGlyphs">x</text><path d="M286.38,100.65L287.78,104.64L286.38,108.62" fill="none" stroke="#000" stroke-width="0.79" stroke-linejoin="miter"/><text x="289.45" y="107.70" font-size="9.75" stroke-width="0.06" textLength="2.59" lengthAdjust="spacingAndGlyphs">(</text><text x="293.09" y="107.70" font-size="9.75" stroke-width="0.06" textLength="5.24" lengthAdjust="spacingAndGlyphs">1</text><text x="298.89" y="107.70" font-size="9.75" font-style="italic" stroke-width="0.06" textLength="5.52" lengthAdjust="spacingAndGlyphs">μ</text><text x="304.86" y="107.70" font-size="9.75" stroke-width="0.06" textLength="8.70" lengthAdjust="spacingAndGlyphs">m</text><text x="314.51" y="107.70" font-size="9.75" stroke-width="0.06" textLength="2.59" lengthAdjust="spacingAndGlyphs">)</text>
<text x="271.81" y="121.40" font-size="9.75" font-style="italic" stroke-width="0.06" textLength="5.56" lengthAdjust="spacingAndGlyphs">u</text><text x="277.71" y="122.88" font-size="6.82" stroke-width="0.06" textLength="3.86" lengthAdjust="spacingAndGlyphs">0</text><text x="282.25" y="121.40" font-size="9.75" stroke-width="0.06" textLength="2.59" lengthAdjust="spacingAndGlyphs">(</text><text x="285.81" y="121.40" font-size="9.75" stroke-width="0.06" textLength="17.39" lengthAdjust="spacingAndGlyphs">100</text><text x="303.57" y="121.40" font-size="9.75" font-style="italic" stroke-width="0.06" textLength="5.52" lengthAdjust="spacingAndGlyphs">μ</text><text x="309.54" y="121.40" font-size="9.75" stroke-width="0.06" textLength="8.70" lengthAdjust="spacingAndGlyphs">m</text><text x="319.18" y="121.40" font-size="9.75" stroke-width="0.06" textLength="2.59" lengthAdjust="spacingAndGlyphs">)</text>
<path d="M274.30,128.75L272.90,132.74L274.30,136.73" fill="none" stroke="#000" stroke-width="0.79" stroke-linejoin="miter"/><text x="275.26" y="135.80" font-size="9.75" font-style="italic" stroke-width="0.06" textLength="5.56" lengthAdjust="spacingAndGlyphs">u</text><text x="281.58" y="132.11" font-size="6.82" font-style="italic" stroke-width="0.06" textLength="3.46" lengthAdjust="spacingAndGlyphs">x</text><path d="M286.38,128.75L287.78,132.74L286.38,136.73" fill="none" stroke="#000" stroke-width="0.79" stroke-linejoin="miter"/><text x="289.45" y="135.80" font-size="9.75" stroke-width="0.06" textLength="2.59" lengthAdjust="spacingAndGlyphs">(</text><text x="293.01" y="135.80" font-size="9.75" stroke-width="0.06" textLength="17.39" lengthAdjust="spacingAndGlyphs">100</text><text x="310.77" y="135.80" font-size="9.75" font-style="italic" stroke-width="0.06" textLength="5.52" lengthAdjust="spacingAndGlyphs">μ</text><text x="316.74" y="135.80" font-size="9.75" stroke-width="0.06" textLength="8.70" lengthAdjust="spacingAndGlyphs">m</text><text x="326.38" y="135.80" font-size="9.75" stroke-width="0.06" textLength="2.59" lengthAdjust="spacingAndGlyphs">)</text>
</g>
<path d="M74.2,188.5H88.7" stroke="#000" stroke-width="1.75" stroke-dasharray="5.9,2.35" fill="none"/>
<path d="M74.2,208.15H88.7" stroke="#dc143c" stroke-width="1.75" stroke-dasharray="1.7,2.42" fill="none"/>
<path d="M74.2,227.85H88.7" stroke="#e0a42c" stroke-width="1.75" stroke-dasharray="1.7,2.42" fill="none"/>
<path d="M72.9,247.6H90.0" stroke="#808080" stroke-width="2.65" fill="none"/>
<path d="M265.2,90.1H270.7" stroke="#008000" stroke-width="1.75" fill="none"/>
<path d="M263.9,104.3H272.0" stroke="#dcc42c" stroke-width="2.65" fill="none"/>
<path d="M265.2,118.2H270.7" stroke="#20207a" stroke-width="1.75" fill="none"/>
<path d="M263.9,132.3H272.0" stroke="#25d4d8" stroke-width="2.65" fill="none"/>
</svg>
</body></html>
